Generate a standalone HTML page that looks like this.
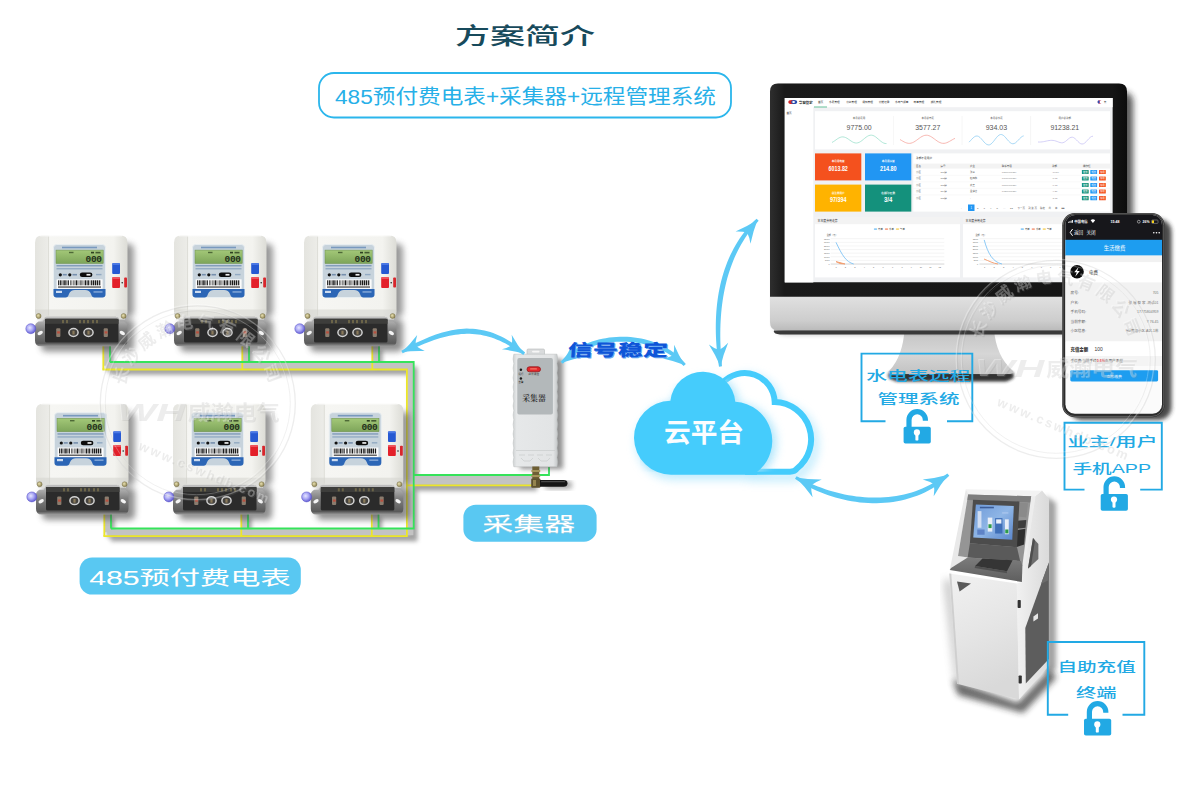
<!DOCTYPE html>
<html lang="zh-CN"><head><meta charset="utf-8"><title>方案简介</title>
<style>
html,body{margin:0;padding:0;background:#fff;}
body{width:1200px;height:800px;overflow:hidden;font-family:"Liberation Sans","Noto Sans CJK SC",sans-serif;}
svg{display:block}
</style></head><body>
<svg width="1200" height="800" viewBox="0 0 1200 800">
<text x="455" y="44.2" font-size="22.6" fill="#174a5c" text-anchor="start" font-weight="500" font-family='"Liberation Sans","Noto Sans CJK SC",sans-serif' textLength="140" lengthAdjust="spacingAndGlyphs" >方案简介</text><rect x="319" y="73" width="412" height="44.5" rx="15" ry="15" fill="#fff" stroke="#2bb6ec" stroke-width="1.8"/><text x="335" y="104" font-size="20" fill="#27b0e8" text-anchor="start" font-weight="normal" font-family='"Liberation Sans","Noto Sans CJK SC",sans-serif' textLength="381" lengthAdjust="spacingAndGlyphs" >485预付费电表+采集器+远程管理系统</text><defs><filter id="wsh" x="-5%" y="-5%" width="110%" height="115%"><feGaussianBlur stdDeviation="2.2"/></filter></defs><g filter="url(#wsh)" opacity="0.55" transform="translate(3,5)"><path d="M106.7 345 V365.7" fill="none" stroke="#555" stroke-width="7.5"/><path d="M245.7 345 V365.7" fill="none" stroke="#555" stroke-width="7.5"/><path d="M375.7 345 V365.7" fill="none" stroke="#555" stroke-width="7.5"/><path d="M106.7 365.7 H410.4 V532.3 H107.7" fill="none" stroke="#555" stroke-width="8"/><path d="M107.7 512.5 V532.3" fill="none" stroke="#555" stroke-width="7.5"/><path d="M244.7 512.5 V532.3" fill="none" stroke="#555" stroke-width="7.5"/><path d="M375.2 512.5 V532.3" fill="none" stroke="#555" stroke-width="7.5"/><path d="M410.4 480.2 H534" fill="none" stroke="#555" stroke-width="11"/></g><path d="M106.7 345 V365.7" fill="none" stroke="#c3c3c3" stroke-width="5.5"/><path d="M245.7 345 V365.7" fill="none" stroke="#c3c3c3" stroke-width="5.5"/><path d="M375.7 345 V365.7" fill="none" stroke="#c3c3c3" stroke-width="5.5"/><path d="M106.7 365.7 H410.4 V532.3 H107.7" fill="none" stroke="#c3c3c3" stroke-width="6"/><path d="M107.7 512.5 V532.3" fill="none" stroke="#c3c3c3" stroke-width="5.5"/><path d="M244.7 512.5 V532.3" fill="none" stroke="#c3c3c3" stroke-width="5.5"/><path d="M375.2 512.5 V532.3" fill="none" stroke="#c3c3c3" stroke-width="5.5"/><path d="M410.4 480.2 H534" fill="none" stroke="#c3c3c3" stroke-width="9"/><path d="M103.3 345 V369.5" fill="none" stroke="#ece62a" stroke-width="1.8"/><path d="M242.3 345 V369.5" fill="none" stroke="#ece62a" stroke-width="1.8"/><path d="M372.3 345 V369.5" fill="none" stroke="#ece62a" stroke-width="1.8"/><path d="M102.4 369.5 H406.9 V536.2 H103.4" fill="none" stroke="#ece62a" stroke-width="1.8"/><path d="M104.3 512.5 V536.2" fill="none" stroke="#ece62a" stroke-width="1.8"/><path d="M241.3 512.5 V536.2" fill="none" stroke="#ece62a" stroke-width="1.8"/><path d="M371.8 512.5 V536.2" fill="none" stroke="#ece62a" stroke-width="1.8"/><path d="M406.9 485.4 H533" fill="none" stroke="#ece62a" stroke-width="1.8"/><path d="M110 345 V362" fill="none" stroke="#35e35a" stroke-width="1.8"/><path d="M249 345 V362" fill="none" stroke="#35e35a" stroke-width="1.8"/><path d="M379 345 V362" fill="none" stroke="#35e35a" stroke-width="1.8"/><path d="M110 362 H413.7 V528.5 H111" fill="none" stroke="#35e35a" stroke-width="1.8"/><path d="M111 512.5 V528.5" fill="none" stroke="#35e35a" stroke-width="1.8"/><path d="M248 512.5 V528.5" fill="none" stroke="#35e35a" stroke-width="1.8"/><path d="M378.5 512.5 V528.5" fill="none" stroke="#35e35a" stroke-width="1.8"/><path d="M413.7 475 H549 V467" fill="none" stroke="#35e35a" stroke-width="1.8"/><defs>
<linearGradient id="mbody" x1="0" y1="0" x2="1" y2="0"><stop offset="0" stop-color="#e4e4df"/><stop offset="0.14" stop-color="#ecece8"/><stop offset="0.16" stop-color="#f6f6f3"/><stop offset="0.85" stop-color="#f3f3ef"/><stop offset="1" stop-color="#dcdcd6"/></linearGradient>
<linearGradient id="mlcd" x1="0" y1="0" x2="0" y2="1"><stop offset="0" stop-color="#a3c878"/><stop offset="1" stop-color="#7ea55a"/></linearGradient>
<linearGradient id="mterm" x1="0" y1="0" x2="0" y2="1"><stop offset="0" stop-color="#c4c4c4"/><stop offset="0.45" stop-color="#808080"/><stop offset="0.9" stop-color="#5a5a5a"/><stop offset="1" stop-color="#9a9a9a"/></linearGradient>
<radialGradient id="mled" cx="0.4" cy="0.4" r="0.7"><stop offset="0" stop-color="#e6e6ff"/><stop offset="0.45" stop-color="#a9a7f4"/><stop offset="1" stop-color="#4a44c8"/></radialGradient>
<radialGradient id="mscrew" cx="0.4" cy="0.4" r="0.7"><stop offset="0" stop-color="#e8e0b0"/><stop offset="1" stop-color="#857a4a"/></radialGradient>
<filter id="msh" x="-20%" y="-20%" width="150%" height="150%"><feGaussianBlur stdDeviation="3.2"/></filter>
</defs><g transform="translate(35,235.5)"><g filter="url(#msh)" opacity="0.6"><rect x="8" y="8" width="91" height="74" rx="6" fill="#555"/><rect x="6" y="84" width="93" height="32" rx="5" fill="#444"/></g><path d="M7 0 H85.5 Q92.5 0 92.5 7 V76 Q92.5 81 88 81 H4 Q0 81 0 76 V7 Q0 0 7 0 Z" fill="url(#mbody)"/><path d="M13.5 1 V80" stroke="#d9d9d3" stroke-width="0.8"/><path d="M5 0.4 H87" stroke="#fff" stroke-width="0.8" opacity="0.8"/><rect x="0" y="74" width="92" height="7" fill="#d4d4ce" opacity="0.55"/><rect x="18.5" y="9" width="52" height="53" rx="3.2" fill="#c7d3dc" stroke="#e9eef2" stroke-width="0.9"/><rect x="27" y="11.2" width="35" height="1.6" fill="#5f86b4" opacity="0.75"/><rect x="21" y="14.6" width="47.2" height="13.4" fill="url(#mlcd)" stroke="#6c8f4c" stroke-width="0.5"/><text x="66.5" y="26.6" font-size="9.5" fill="#22301a" text-anchor="end" font-weight="bold" font-family='"Liberation Mono",monospace' letter-spacing="-0.4">000</text><rect x="34" y="16.3" width="4.5" height="1.4" fill="#3b5228" opacity="0.8"/><rect x="56" y="16.3" width="3" height="1.6" fill="#2c3f1f"/><rect x="60.5" y="16.3" width="5" height="1.6" fill="#2c3f1f" opacity="0.8"/><rect x="21.5" y="29.6" width="46" height="1.3" fill="#5d7fa8" opacity="0.7"/><rect x="21.5" y="32.6" width="46" height="1.3" fill="#6d8db2" opacity="0.6"/><circle cx="25.3" cy="39.3" r="1.6" fill="#111"/><circle cx="34.8" cy="39.3" r="1.6" fill="#111"/><rect x="27.8" y="38.4" width="4" height="1.6" fill="#55749a" opacity="0.7"/><rect x="37.5" y="38.4" width="4.5" height="1.6" fill="#55749a" opacity="0.7"/><rect x="44.8" y="37" width="12.6" height="4.6" rx="2.3" fill="#0c0c0c"/><rect x="51.5" y="38.4" width="4" height="1.7" fill="#eee"/><rect x="61" y="38.4" width="5.5" height="1.4" fill="#6f8fb3" opacity="0.6"/><rect x="21.6" y="43.8" width="46" height="9.6" fill="#fcfcfc"/><rect x="23" y="44.8" width="0.9" height="5" fill="#1a1a1a"/><rect x="24.7" y="44.8" width="1.2" height="5" fill="#1a1a1a"/><rect x="26.5" y="44.8" width="0.6" height="5" fill="#1a1a1a"/><rect x="27.7" y="44.8" width="0.9" height="5" fill="#1a1a1a"/><rect x="29.2" y="44.8" width="1.5" height="5" fill="#1a1a1a"/><rect x="31.5" y="44.8" width="0.6" height="5" fill="#1a1a1a"/><rect x="32.7" y="44.8" width="1.2" height="5" fill="#1a1a1a"/><rect x="35.2" y="44.8" width="0.6" height="5" fill="#1a1a1a"/><rect x="36.6" y="44.8" width="0.6" height="5" fill="#1a1a1a"/><rect x="38.5" y="44.8" width="0.6" height="5" fill="#1a1a1a"/><rect x="39.7" y="44.8" width="0.6" height="5" fill="#1a1a1a"/><rect x="40.9" y="44.8" width="1.5" height="5" fill="#1a1a1a"/><rect x="43.7" y="44.8" width="0.6" height="5" fill="#1a1a1a"/><rect x="45.1" y="44.8" width="0.6" height="5" fill="#1a1a1a"/><rect x="46.5" y="44.8" width="0.9" height="5" fill="#1a1a1a"/><rect x="48.7" y="44.8" width="0.6" height="5" fill="#1a1a1a"/><rect x="49.9" y="44.8" width="1.5" height="5" fill="#1a1a1a"/><rect x="52.4" y="44.8" width="1.5" height="5" fill="#1a1a1a"/><rect x="54.7" y="44.8" width="0.6" height="5" fill="#1a1a1a"/><rect x="56.1" y="44.8" width="0.9" height="5" fill="#1a1a1a"/><rect x="57.6" y="44.8" width="1.5" height="5" fill="#1a1a1a"/><rect x="59.7" y="44.8" width="1.5" height="5" fill="#1a1a1a"/><rect x="61.8" y="44.8" width="1.5" height="5" fill="#1a1a1a"/><rect x="64.1" y="44.8" width="1.2" height="5" fill="#1a1a1a"/><rect x="23" y="50.8" width="43" height="1.5" fill="#333" opacity="0.75"/><path d="M18.5 53.6 H70.5 V58.8 Q70.5 62 67.3 62 H59.5 Q57 62 56 58.5 Q54.5 54.6 50 54.6 H40 Q35.5 54.6 34 58.5 Q33 62 30.5 62 H21.7 Q18.5 62 18.5 58.8 Z" fill="#2c66b6"/><rect x="21" y="55.3" width="6" height="2.2" fill="#dfe9f6" opacity="0.9"/><rect x="58.5" y="55.8" width="9" height="1.3" fill="#a9c3e6" opacity="0.8"/><rect x="77.2" y="27.6" width="7.8" height="10.8" rx="1" fill="#2659d2"/><rect x="77.2" y="27.6" width="7.8" height="2" rx="1" fill="#5a86ec" opacity="0.7"/><rect x="77.2" y="41.4" width="7.8" height="11" rx="1" fill="#e3202a"/><rect x="77.2" y="41.4" width="7.8" height="2" rx="1" fill="#f36a70" opacity="0.7"/><rect x="89.2" y="42" width="2.8" height="10" rx="0.8" fill="#d8262c"/><circle cx="87.2" cy="47.3" r="0.8" fill="#222"/><rect x="2" y="78" width="9" height="6" fill="#dededa"/><rect x="81" y="78" width="9" height="6" fill="#dededa"/><path d="M10 81.5 H83 L85 86 H89 Q93 88 92.5 92 V105 Q92.5 110.8 87 110.8 H5.5 Q0 110.8 0 105 V92 Q-0.5 88 3.5 86 H8 Z" fill="url(#mterm)"/><rect x="10" y="83.3" width="73.5" height="23.6" rx="1.5" fill="#2b2b2b"/><rect x="10" y="83.3" width="73.5" height="5" fill="#3d3d3b"/><rect x="27" y="84.5" width="2" height="3.2" fill="#6b6448"/><rect x="31" y="84.5" width="2" height="3.2" fill="#6b6448"/><rect x="44" y="84.5" width="2" height="3.2" fill="#6b6448"/><rect x="48" y="84.5" width="2" height="3.2" fill="#6b6448"/><rect x="52" y="84.5" width="2" height="3.2" fill="#6b6448"/><rect x="57" y="84.5" width="2" height="3.2" fill="#6b6448"/><rect x="61" y="84.5" width="2" height="3.2" fill="#6b6448"/><ellipse cx="5.2" cy="97.5" rx="2.9" ry="1.8" fill="#f4f4f4" transform="rotate(-30 5.2 97.5)"/><ellipse cx="87.3" cy="97.5" rx="2.9" ry="1.8" fill="#f4f4f4" transform="rotate(30 87.3 97.5)"/><ellipse cx="38.5" cy="97" rx="4.6" ry="3.9" fill="#45433f" stroke="#d2d2d2" stroke-width="1.5"/><rect x="37.4" y="95.2" width="2.2" height="3.8" fill="#8a7a5a"/><ellipse cx="53.5" cy="97" rx="4.6" ry="3.9" fill="#45433f" stroke="#d2d2d2" stroke-width="1.5"/><rect x="52.4" y="95.2" width="2.2" height="3.8" fill="#8a7a5a"/><rect x="21.2" y="92.8" width="4.2" height="8.6" rx="1" fill="#8a7c6e"/><rect x="22.1" y="95.8" width="2.8" height="2.2" fill="#b8503f"/><rect x="68.7" y="92.8" width="4.2" height="8.6" rx="1" fill="#8a7c6e"/><rect x="69.6" y="95.8" width="2.8" height="2.2" fill="#b8503f"/><circle cx="3.6" cy="80.5" r="2.5" fill="url(#mscrew)" stroke="#6b6238" stroke-width="0.4"/><circle cx="88.6" cy="80.5" r="2.5" fill="url(#mscrew)" stroke="#6b6238" stroke-width="0.4"/><circle cx="-4.2" cy="93.2" r="5" fill="url(#mled)" stroke="#5a55c8" stroke-width="0.5"/></g><g transform="translate(174,235.5)"><g filter="url(#msh)" opacity="0.6"><rect x="8" y="8" width="91" height="74" rx="6" fill="#555"/><rect x="6" y="84" width="93" height="32" rx="5" fill="#444"/></g><path d="M7 0 H85.5 Q92.5 0 92.5 7 V76 Q92.5 81 88 81 H4 Q0 81 0 76 V7 Q0 0 7 0 Z" fill="url(#mbody)"/><path d="M13.5 1 V80" stroke="#d9d9d3" stroke-width="0.8"/><path d="M5 0.4 H87" stroke="#fff" stroke-width="0.8" opacity="0.8"/><rect x="0" y="74" width="92" height="7" fill="#d4d4ce" opacity="0.55"/><rect x="18.5" y="9" width="52" height="53" rx="3.2" fill="#c7d3dc" stroke="#e9eef2" stroke-width="0.9"/><rect x="27" y="11.2" width="35" height="1.6" fill="#5f86b4" opacity="0.75"/><rect x="21" y="14.6" width="47.2" height="13.4" fill="url(#mlcd)" stroke="#6c8f4c" stroke-width="0.5"/><text x="66.5" y="26.6" font-size="9.5" fill="#22301a" text-anchor="end" font-weight="bold" font-family='"Liberation Mono",monospace' letter-spacing="-0.4">000</text><rect x="34" y="16.3" width="4.5" height="1.4" fill="#3b5228" opacity="0.8"/><rect x="56" y="16.3" width="3" height="1.6" fill="#2c3f1f"/><rect x="60.5" y="16.3" width="5" height="1.6" fill="#2c3f1f" opacity="0.8"/><rect x="21.5" y="29.6" width="46" height="1.3" fill="#5d7fa8" opacity="0.7"/><rect x="21.5" y="32.6" width="46" height="1.3" fill="#6d8db2" opacity="0.6"/><circle cx="25.3" cy="39.3" r="1.6" fill="#111"/><circle cx="34.8" cy="39.3" r="1.6" fill="#111"/><rect x="27.8" y="38.4" width="4" height="1.6" fill="#55749a" opacity="0.7"/><rect x="37.5" y="38.4" width="4.5" height="1.6" fill="#55749a" opacity="0.7"/><rect x="44.8" y="37" width="12.6" height="4.6" rx="2.3" fill="#0c0c0c"/><rect x="51.5" y="38.4" width="4" height="1.7" fill="#eee"/><rect x="61" y="38.4" width="5.5" height="1.4" fill="#6f8fb3" opacity="0.6"/><rect x="21.6" y="43.8" width="46" height="9.6" fill="#fcfcfc"/><rect x="23" y="44.8" width="0.9" height="5" fill="#1a1a1a"/><rect x="24.7" y="44.8" width="1.2" height="5" fill="#1a1a1a"/><rect x="26.5" y="44.8" width="0.6" height="5" fill="#1a1a1a"/><rect x="27.7" y="44.8" width="0.9" height="5" fill="#1a1a1a"/><rect x="29.2" y="44.8" width="1.5" height="5" fill="#1a1a1a"/><rect x="31.5" y="44.8" width="0.6" height="5" fill="#1a1a1a"/><rect x="32.7" y="44.8" width="1.2" height="5" fill="#1a1a1a"/><rect x="35.2" y="44.8" width="0.6" height="5" fill="#1a1a1a"/><rect x="36.6" y="44.8" width="0.6" height="5" fill="#1a1a1a"/><rect x="38.5" y="44.8" width="0.6" height="5" fill="#1a1a1a"/><rect x="39.7" y="44.8" width="0.6" height="5" fill="#1a1a1a"/><rect x="40.9" y="44.8" width="1.5" height="5" fill="#1a1a1a"/><rect x="43.7" y="44.8" width="0.6" height="5" fill="#1a1a1a"/><rect x="45.1" y="44.8" width="0.6" height="5" fill="#1a1a1a"/><rect x="46.5" y="44.8" width="0.9" height="5" fill="#1a1a1a"/><rect x="48.7" y="44.8" width="0.6" height="5" fill="#1a1a1a"/><rect x="49.9" y="44.8" width="1.5" height="5" fill="#1a1a1a"/><rect x="52.4" y="44.8" width="1.5" height="5" fill="#1a1a1a"/><rect x="54.7" y="44.8" width="0.6" height="5" fill="#1a1a1a"/><rect x="56.1" y="44.8" width="0.9" height="5" fill="#1a1a1a"/><rect x="57.6" y="44.8" width="1.5" height="5" fill="#1a1a1a"/><rect x="59.7" y="44.8" width="1.5" height="5" fill="#1a1a1a"/><rect x="61.8" y="44.8" width="1.5" height="5" fill="#1a1a1a"/><rect x="64.1" y="44.8" width="1.2" height="5" fill="#1a1a1a"/><rect x="23" y="50.8" width="43" height="1.5" fill="#333" opacity="0.75"/><path d="M18.5 53.6 H70.5 V58.8 Q70.5 62 67.3 62 H59.5 Q57 62 56 58.5 Q54.5 54.6 50 54.6 H40 Q35.5 54.6 34 58.5 Q33 62 30.5 62 H21.7 Q18.5 62 18.5 58.8 Z" fill="#2c66b6"/><rect x="21" y="55.3" width="6" height="2.2" fill="#dfe9f6" opacity="0.9"/><rect x="58.5" y="55.8" width="9" height="1.3" fill="#a9c3e6" opacity="0.8"/><rect x="77.2" y="27.6" width="7.8" height="10.8" rx="1" fill="#2659d2"/><rect x="77.2" y="27.6" width="7.8" height="2" rx="1" fill="#5a86ec" opacity="0.7"/><rect x="77.2" y="41.4" width="7.8" height="11" rx="1" fill="#e3202a"/><rect x="77.2" y="41.4" width="7.8" height="2" rx="1" fill="#f36a70" opacity="0.7"/><rect x="89.2" y="42" width="2.8" height="10" rx="0.8" fill="#d8262c"/><circle cx="87.2" cy="47.3" r="0.8" fill="#222"/><rect x="2" y="78" width="9" height="6" fill="#dededa"/><rect x="81" y="78" width="9" height="6" fill="#dededa"/><path d="M10 81.5 H83 L85 86 H89 Q93 88 92.5 92 V105 Q92.5 110.8 87 110.8 H5.5 Q0 110.8 0 105 V92 Q-0.5 88 3.5 86 H8 Z" fill="url(#mterm)"/><rect x="10" y="83.3" width="73.5" height="23.6" rx="1.5" fill="#2b2b2b"/><rect x="10" y="83.3" width="73.5" height="5" fill="#3d3d3b"/><rect x="27" y="84.5" width="2" height="3.2" fill="#6b6448"/><rect x="31" y="84.5" width="2" height="3.2" fill="#6b6448"/><rect x="44" y="84.5" width="2" height="3.2" fill="#6b6448"/><rect x="48" y="84.5" width="2" height="3.2" fill="#6b6448"/><rect x="52" y="84.5" width="2" height="3.2" fill="#6b6448"/><rect x="57" y="84.5" width="2" height="3.2" fill="#6b6448"/><rect x="61" y="84.5" width="2" height="3.2" fill="#6b6448"/><ellipse cx="5.2" cy="97.5" rx="2.9" ry="1.8" fill="#f4f4f4" transform="rotate(-30 5.2 97.5)"/><ellipse cx="87.3" cy="97.5" rx="2.9" ry="1.8" fill="#f4f4f4" transform="rotate(30 87.3 97.5)"/><ellipse cx="38.5" cy="97" rx="4.6" ry="3.9" fill="#45433f" stroke="#d2d2d2" stroke-width="1.5"/><rect x="37.4" y="95.2" width="2.2" height="3.8" fill="#8a7a5a"/><ellipse cx="53.5" cy="97" rx="4.6" ry="3.9" fill="#45433f" stroke="#d2d2d2" stroke-width="1.5"/><rect x="52.4" y="95.2" width="2.2" height="3.8" fill="#8a7a5a"/><rect x="21.2" y="92.8" width="4.2" height="8.6" rx="1" fill="#8a7c6e"/><rect x="22.1" y="95.8" width="2.8" height="2.2" fill="#b8503f"/><rect x="68.7" y="92.8" width="4.2" height="8.6" rx="1" fill="#8a7c6e"/><rect x="69.6" y="95.8" width="2.8" height="2.2" fill="#b8503f"/><circle cx="3.6" cy="80.5" r="2.5" fill="url(#mscrew)" stroke="#6b6238" stroke-width="0.4"/><circle cx="88.6" cy="80.5" r="2.5" fill="url(#mscrew)" stroke="#6b6238" stroke-width="0.4"/><circle cx="-4.2" cy="93.2" r="5" fill="url(#mled)" stroke="#5a55c8" stroke-width="0.5"/></g><g transform="translate(304,235.5)"><g filter="url(#msh)" opacity="0.6"><rect x="8" y="8" width="91" height="74" rx="6" fill="#555"/><rect x="6" y="84" width="93" height="32" rx="5" fill="#444"/></g><path d="M7 0 H85.5 Q92.5 0 92.5 7 V76 Q92.5 81 88 81 H4 Q0 81 0 76 V7 Q0 0 7 0 Z" fill="url(#mbody)"/><path d="M13.5 1 V80" stroke="#d9d9d3" stroke-width="0.8"/><path d="M5 0.4 H87" stroke="#fff" stroke-width="0.8" opacity="0.8"/><rect x="0" y="74" width="92" height="7" fill="#d4d4ce" opacity="0.55"/><rect x="18.5" y="9" width="52" height="53" rx="3.2" fill="#c7d3dc" stroke="#e9eef2" stroke-width="0.9"/><rect x="27" y="11.2" width="35" height="1.6" fill="#5f86b4" opacity="0.75"/><rect x="21" y="14.6" width="47.2" height="13.4" fill="url(#mlcd)" stroke="#6c8f4c" stroke-width="0.5"/><text x="66.5" y="26.6" font-size="9.5" fill="#22301a" text-anchor="end" font-weight="bold" font-family='"Liberation Mono",monospace' letter-spacing="-0.4">000</text><rect x="34" y="16.3" width="4.5" height="1.4" fill="#3b5228" opacity="0.8"/><rect x="56" y="16.3" width="3" height="1.6" fill="#2c3f1f"/><rect x="60.5" y="16.3" width="5" height="1.6" fill="#2c3f1f" opacity="0.8"/><rect x="21.5" y="29.6" width="46" height="1.3" fill="#5d7fa8" opacity="0.7"/><rect x="21.5" y="32.6" width="46" height="1.3" fill="#6d8db2" opacity="0.6"/><circle cx="25.3" cy="39.3" r="1.6" fill="#111"/><circle cx="34.8" cy="39.3" r="1.6" fill="#111"/><rect x="27.8" y="38.4" width="4" height="1.6" fill="#55749a" opacity="0.7"/><rect x="37.5" y="38.4" width="4.5" height="1.6" fill="#55749a" opacity="0.7"/><rect x="44.8" y="37" width="12.6" height="4.6" rx="2.3" fill="#0c0c0c"/><rect x="51.5" y="38.4" width="4" height="1.7" fill="#eee"/><rect x="61" y="38.4" width="5.5" height="1.4" fill="#6f8fb3" opacity="0.6"/><rect x="21.6" y="43.8" width="46" height="9.6" fill="#fcfcfc"/><rect x="23" y="44.8" width="0.9" height="5" fill="#1a1a1a"/><rect x="24.7" y="44.8" width="1.2" height="5" fill="#1a1a1a"/><rect x="26.5" y="44.8" width="0.6" height="5" fill="#1a1a1a"/><rect x="27.7" y="44.8" width="0.9" height="5" fill="#1a1a1a"/><rect x="29.2" y="44.8" width="1.5" height="5" fill="#1a1a1a"/><rect x="31.5" y="44.8" width="0.6" height="5" fill="#1a1a1a"/><rect x="32.7" y="44.8" width="1.2" height="5" fill="#1a1a1a"/><rect x="35.2" y="44.8" width="0.6" height="5" fill="#1a1a1a"/><rect x="36.6" y="44.8" width="0.6" height="5" fill="#1a1a1a"/><rect x="38.5" y="44.8" width="0.6" height="5" fill="#1a1a1a"/><rect x="39.7" y="44.8" width="0.6" height="5" fill="#1a1a1a"/><rect x="40.9" y="44.8" width="1.5" height="5" fill="#1a1a1a"/><rect x="43.7" y="44.8" width="0.6" height="5" fill="#1a1a1a"/><rect x="45.1" y="44.8" width="0.6" height="5" fill="#1a1a1a"/><rect x="46.5" y="44.8" width="0.9" height="5" fill="#1a1a1a"/><rect x="48.7" y="44.8" width="0.6" height="5" fill="#1a1a1a"/><rect x="49.9" y="44.8" width="1.5" height="5" fill="#1a1a1a"/><rect x="52.4" y="44.8" width="1.5" height="5" fill="#1a1a1a"/><rect x="54.7" y="44.8" width="0.6" height="5" fill="#1a1a1a"/><rect x="56.1" y="44.8" width="0.9" height="5" fill="#1a1a1a"/><rect x="57.6" y="44.8" width="1.5" height="5" fill="#1a1a1a"/><rect x="59.7" y="44.8" width="1.5" height="5" fill="#1a1a1a"/><rect x="61.8" y="44.8" width="1.5" height="5" fill="#1a1a1a"/><rect x="64.1" y="44.8" width="1.2" height="5" fill="#1a1a1a"/><rect x="23" y="50.8" width="43" height="1.5" fill="#333" opacity="0.75"/><path d="M18.5 53.6 H70.5 V58.8 Q70.5 62 67.3 62 H59.5 Q57 62 56 58.5 Q54.5 54.6 50 54.6 H40 Q35.5 54.6 34 58.5 Q33 62 30.5 62 H21.7 Q18.5 62 18.5 58.8 Z" fill="#2c66b6"/><rect x="21" y="55.3" width="6" height="2.2" fill="#dfe9f6" opacity="0.9"/><rect x="58.5" y="55.8" width="9" height="1.3" fill="#a9c3e6" opacity="0.8"/><rect x="77.2" y="27.6" width="7.8" height="10.8" rx="1" fill="#2659d2"/><rect x="77.2" y="27.6" width="7.8" height="2" rx="1" fill="#5a86ec" opacity="0.7"/><rect x="77.2" y="41.4" width="7.8" height="11" rx="1" fill="#e3202a"/><rect x="77.2" y="41.4" width="7.8" height="2" rx="1" fill="#f36a70" opacity="0.7"/><rect x="89.2" y="42" width="2.8" height="10" rx="0.8" fill="#d8262c"/><circle cx="87.2" cy="47.3" r="0.8" fill="#222"/><rect x="2" y="78" width="9" height="6" fill="#dededa"/><rect x="81" y="78" width="9" height="6" fill="#dededa"/><path d="M10 81.5 H83 L85 86 H89 Q93 88 92.5 92 V105 Q92.5 110.8 87 110.8 H5.5 Q0 110.8 0 105 V92 Q-0.5 88 3.5 86 H8 Z" fill="url(#mterm)"/><rect x="10" y="83.3" width="73.5" height="23.6" rx="1.5" fill="#2b2b2b"/><rect x="10" y="83.3" width="73.5" height="5" fill="#3d3d3b"/><rect x="27" y="84.5" width="2" height="3.2" fill="#6b6448"/><rect x="31" y="84.5" width="2" height="3.2" fill="#6b6448"/><rect x="44" y="84.5" width="2" height="3.2" fill="#6b6448"/><rect x="48" y="84.5" width="2" height="3.2" fill="#6b6448"/><rect x="52" y="84.5" width="2" height="3.2" fill="#6b6448"/><rect x="57" y="84.5" width="2" height="3.2" fill="#6b6448"/><rect x="61" y="84.5" width="2" height="3.2" fill="#6b6448"/><ellipse cx="5.2" cy="97.5" rx="2.9" ry="1.8" fill="#f4f4f4" transform="rotate(-30 5.2 97.5)"/><ellipse cx="87.3" cy="97.5" rx="2.9" ry="1.8" fill="#f4f4f4" transform="rotate(30 87.3 97.5)"/><ellipse cx="38.5" cy="97" rx="4.6" ry="3.9" fill="#45433f" stroke="#d2d2d2" stroke-width="1.5"/><rect x="37.4" y="95.2" width="2.2" height="3.8" fill="#8a7a5a"/><ellipse cx="53.5" cy="97" rx="4.6" ry="3.9" fill="#45433f" stroke="#d2d2d2" stroke-width="1.5"/><rect x="52.4" y="95.2" width="2.2" height="3.8" fill="#8a7a5a"/><rect x="21.2" y="92.8" width="4.2" height="8.6" rx="1" fill="#8a7c6e"/><rect x="22.1" y="95.8" width="2.8" height="2.2" fill="#b8503f"/><rect x="68.7" y="92.8" width="4.2" height="8.6" rx="1" fill="#8a7c6e"/><rect x="69.6" y="95.8" width="2.8" height="2.2" fill="#b8503f"/><circle cx="3.6" cy="80.5" r="2.5" fill="url(#mscrew)" stroke="#6b6238" stroke-width="0.4"/><circle cx="88.6" cy="80.5" r="2.5" fill="url(#mscrew)" stroke="#6b6238" stroke-width="0.4"/><circle cx="-4.2" cy="93.2" r="5" fill="url(#mled)" stroke="#5a55c8" stroke-width="0.5"/></g><g transform="translate(36,403.7)"><g filter="url(#msh)" opacity="0.6"><rect x="8" y="8" width="91" height="74" rx="6" fill="#555"/><rect x="6" y="84" width="93" height="32" rx="5" fill="#444"/></g><path d="M7 0 H85.5 Q92.5 0 92.5 7 V76 Q92.5 81 88 81 H4 Q0 81 0 76 V7 Q0 0 7 0 Z" fill="url(#mbody)"/><path d="M13.5 1 V80" stroke="#d9d9d3" stroke-width="0.8"/><path d="M5 0.4 H87" stroke="#fff" stroke-width="0.8" opacity="0.8"/><rect x="0" y="74" width="92" height="7" fill="#d4d4ce" opacity="0.55"/><rect x="18.5" y="9" width="52" height="53" rx="3.2" fill="#c7d3dc" stroke="#e9eef2" stroke-width="0.9"/><rect x="27" y="11.2" width="35" height="1.6" fill="#5f86b4" opacity="0.75"/><rect x="21" y="14.6" width="47.2" height="13.4" fill="url(#mlcd)" stroke="#6c8f4c" stroke-width="0.5"/><text x="66.5" y="26.6" font-size="9.5" fill="#22301a" text-anchor="end" font-weight="bold" font-family='"Liberation Mono",monospace' letter-spacing="-0.4">000</text><rect x="34" y="16.3" width="4.5" height="1.4" fill="#3b5228" opacity="0.8"/><rect x="56" y="16.3" width="3" height="1.6" fill="#2c3f1f"/><rect x="60.5" y="16.3" width="5" height="1.6" fill="#2c3f1f" opacity="0.8"/><rect x="21.5" y="29.6" width="46" height="1.3" fill="#5d7fa8" opacity="0.7"/><rect x="21.5" y="32.6" width="46" height="1.3" fill="#6d8db2" opacity="0.6"/><circle cx="25.3" cy="39.3" r="1.6" fill="#111"/><circle cx="34.8" cy="39.3" r="1.6" fill="#111"/><rect x="27.8" y="38.4" width="4" height="1.6" fill="#55749a" opacity="0.7"/><rect x="37.5" y="38.4" width="4.5" height="1.6" fill="#55749a" opacity="0.7"/><rect x="44.8" y="37" width="12.6" height="4.6" rx="2.3" fill="#0c0c0c"/><rect x="51.5" y="38.4" width="4" height="1.7" fill="#eee"/><rect x="61" y="38.4" width="5.5" height="1.4" fill="#6f8fb3" opacity="0.6"/><rect x="21.6" y="43.8" width="46" height="9.6" fill="#fcfcfc"/><rect x="23" y="44.8" width="0.9" height="5" fill="#1a1a1a"/><rect x="24.7" y="44.8" width="1.2" height="5" fill="#1a1a1a"/><rect x="26.5" y="44.8" width="0.6" height="5" fill="#1a1a1a"/><rect x="27.7" y="44.8" width="0.9" height="5" fill="#1a1a1a"/><rect x="29.2" y="44.8" width="1.5" height="5" fill="#1a1a1a"/><rect x="31.5" y="44.8" width="0.6" height="5" fill="#1a1a1a"/><rect x="32.7" y="44.8" width="1.2" height="5" fill="#1a1a1a"/><rect x="35.2" y="44.8" width="0.6" height="5" fill="#1a1a1a"/><rect x="36.6" y="44.8" width="0.6" height="5" fill="#1a1a1a"/><rect x="38.5" y="44.8" width="0.6" height="5" fill="#1a1a1a"/><rect x="39.7" y="44.8" width="0.6" height="5" fill="#1a1a1a"/><rect x="40.9" y="44.8" width="1.5" height="5" fill="#1a1a1a"/><rect x="43.7" y="44.8" width="0.6" height="5" fill="#1a1a1a"/><rect x="45.1" y="44.8" width="0.6" height="5" fill="#1a1a1a"/><rect x="46.5" y="44.8" width="0.9" height="5" fill="#1a1a1a"/><rect x="48.7" y="44.8" width="0.6" height="5" fill="#1a1a1a"/><rect x="49.9" y="44.8" width="1.5" height="5" fill="#1a1a1a"/><rect x="52.4" y="44.8" width="1.5" height="5" fill="#1a1a1a"/><rect x="54.7" y="44.8" width="0.6" height="5" fill="#1a1a1a"/><rect x="56.1" y="44.8" width="0.9" height="5" fill="#1a1a1a"/><rect x="57.6" y="44.8" width="1.5" height="5" fill="#1a1a1a"/><rect x="59.7" y="44.8" width="1.5" height="5" fill="#1a1a1a"/><rect x="61.8" y="44.8" width="1.5" height="5" fill="#1a1a1a"/><rect x="64.1" y="44.8" width="1.2" height="5" fill="#1a1a1a"/><rect x="23" y="50.8" width="43" height="1.5" fill="#333" opacity="0.75"/><path d="M18.5 53.6 H70.5 V58.8 Q70.5 62 67.3 62 H59.5 Q57 62 56 58.5 Q54.5 54.6 50 54.6 H40 Q35.5 54.6 34 58.5 Q33 62 30.5 62 H21.7 Q18.5 62 18.5 58.8 Z" fill="#2c66b6"/><rect x="21" y="55.3" width="6" height="2.2" fill="#dfe9f6" opacity="0.9"/><rect x="58.5" y="55.8" width="9" height="1.3" fill="#a9c3e6" opacity="0.8"/><rect x="77.2" y="27.6" width="7.8" height="10.8" rx="1" fill="#2659d2"/><rect x="77.2" y="27.6" width="7.8" height="2" rx="1" fill="#5a86ec" opacity="0.7"/><rect x="77.2" y="41.4" width="7.8" height="11" rx="1" fill="#e3202a"/><rect x="77.2" y="41.4" width="7.8" height="2" rx="1" fill="#f36a70" opacity="0.7"/><rect x="89.2" y="42" width="2.8" height="10" rx="0.8" fill="#d8262c"/><circle cx="87.2" cy="47.3" r="0.8" fill="#222"/><rect x="2" y="78" width="9" height="6" fill="#dededa"/><rect x="81" y="78" width="9" height="6" fill="#dededa"/><path d="M10 81.5 H83 L85 86 H89 Q93 88 92.5 92 V105 Q92.5 110.8 87 110.8 H5.5 Q0 110.8 0 105 V92 Q-0.5 88 3.5 86 H8 Z" fill="url(#mterm)"/><rect x="10" y="83.3" width="73.5" height="23.6" rx="1.5" fill="#2b2b2b"/><rect x="10" y="83.3" width="73.5" height="5" fill="#3d3d3b"/><rect x="27" y="84.5" width="2" height="3.2" fill="#6b6448"/><rect x="31" y="84.5" width="2" height="3.2" fill="#6b6448"/><rect x="44" y="84.5" width="2" height="3.2" fill="#6b6448"/><rect x="48" y="84.5" width="2" height="3.2" fill="#6b6448"/><rect x="52" y="84.5" width="2" height="3.2" fill="#6b6448"/><rect x="57" y="84.5" width="2" height="3.2" fill="#6b6448"/><rect x="61" y="84.5" width="2" height="3.2" fill="#6b6448"/><ellipse cx="5.2" cy="97.5" rx="2.9" ry="1.8" fill="#f4f4f4" transform="rotate(-30 5.2 97.5)"/><ellipse cx="87.3" cy="97.5" rx="2.9" ry="1.8" fill="#f4f4f4" transform="rotate(30 87.3 97.5)"/><ellipse cx="38.5" cy="97" rx="4.6" ry="3.9" fill="#45433f" stroke="#d2d2d2" stroke-width="1.5"/><rect x="37.4" y="95.2" width="2.2" height="3.8" fill="#8a7a5a"/><ellipse cx="53.5" cy="97" rx="4.6" ry="3.9" fill="#45433f" stroke="#d2d2d2" stroke-width="1.5"/><rect x="52.4" y="95.2" width="2.2" height="3.8" fill="#8a7a5a"/><rect x="21.2" y="92.8" width="4.2" height="8.6" rx="1" fill="#8a7c6e"/><rect x="22.1" y="95.8" width="2.8" height="2.2" fill="#b8503f"/><rect x="68.7" y="92.8" width="4.2" height="8.6" rx="1" fill="#8a7c6e"/><rect x="69.6" y="95.8" width="2.8" height="2.2" fill="#b8503f"/><circle cx="3.6" cy="80.5" r="2.5" fill="url(#mscrew)" stroke="#6b6238" stroke-width="0.4"/><circle cx="88.6" cy="80.5" r="2.5" fill="url(#mscrew)" stroke="#6b6238" stroke-width="0.4"/><circle cx="-4.2" cy="93.2" r="5" fill="url(#mled)" stroke="#5a55c8" stroke-width="0.5"/></g><g transform="translate(173,403.7)"><g filter="url(#msh)" opacity="0.6"><rect x="8" y="8" width="91" height="74" rx="6" fill="#555"/><rect x="6" y="84" width="93" height="32" rx="5" fill="#444"/></g><path d="M7 0 H85.5 Q92.5 0 92.5 7 V76 Q92.5 81 88 81 H4 Q0 81 0 76 V7 Q0 0 7 0 Z" fill="url(#mbody)"/><path d="M13.5 1 V80" stroke="#d9d9d3" stroke-width="0.8"/><path d="M5 0.4 H87" stroke="#fff" stroke-width="0.8" opacity="0.8"/><rect x="0" y="74" width="92" height="7" fill="#d4d4ce" opacity="0.55"/><rect x="18.5" y="9" width="52" height="53" rx="3.2" fill="#c7d3dc" stroke="#e9eef2" stroke-width="0.9"/><rect x="27" y="11.2" width="35" height="1.6" fill="#5f86b4" opacity="0.75"/><rect x="21" y="14.6" width="47.2" height="13.4" fill="url(#mlcd)" stroke="#6c8f4c" stroke-width="0.5"/><text x="66.5" y="26.6" font-size="9.5" fill="#22301a" text-anchor="end" font-weight="bold" font-family='"Liberation Mono",monospace' letter-spacing="-0.4">000</text><rect x="34" y="16.3" width="4.5" height="1.4" fill="#3b5228" opacity="0.8"/><rect x="56" y="16.3" width="3" height="1.6" fill="#2c3f1f"/><rect x="60.5" y="16.3" width="5" height="1.6" fill="#2c3f1f" opacity="0.8"/><rect x="21.5" y="29.6" width="46" height="1.3" fill="#5d7fa8" opacity="0.7"/><rect x="21.5" y="32.6" width="46" height="1.3" fill="#6d8db2" opacity="0.6"/><circle cx="25.3" cy="39.3" r="1.6" fill="#111"/><circle cx="34.8" cy="39.3" r="1.6" fill="#111"/><rect x="27.8" y="38.4" width="4" height="1.6" fill="#55749a" opacity="0.7"/><rect x="37.5" y="38.4" width="4.5" height="1.6" fill="#55749a" opacity="0.7"/><rect x="44.8" y="37" width="12.6" height="4.6" rx="2.3" fill="#0c0c0c"/><rect x="51.5" y="38.4" width="4" height="1.7" fill="#eee"/><rect x="61" y="38.4" width="5.5" height="1.4" fill="#6f8fb3" opacity="0.6"/><rect x="21.6" y="43.8" width="46" height="9.6" fill="#fcfcfc"/><rect x="23" y="44.8" width="0.9" height="5" fill="#1a1a1a"/><rect x="24.7" y="44.8" width="1.2" height="5" fill="#1a1a1a"/><rect x="26.5" y="44.8" width="0.6" height="5" fill="#1a1a1a"/><rect x="27.7" y="44.8" width="0.9" height="5" fill="#1a1a1a"/><rect x="29.2" y="44.8" width="1.5" height="5" fill="#1a1a1a"/><rect x="31.5" y="44.8" width="0.6" height="5" fill="#1a1a1a"/><rect x="32.7" y="44.8" width="1.2" height="5" fill="#1a1a1a"/><rect x="35.2" y="44.8" width="0.6" height="5" fill="#1a1a1a"/><rect x="36.6" y="44.8" width="0.6" height="5" fill="#1a1a1a"/><rect x="38.5" y="44.8" width="0.6" height="5" fill="#1a1a1a"/><rect x="39.7" y="44.8" width="0.6" height="5" fill="#1a1a1a"/><rect x="40.9" y="44.8" width="1.5" height="5" fill="#1a1a1a"/><rect x="43.7" y="44.8" width="0.6" height="5" fill="#1a1a1a"/><rect x="45.1" y="44.8" width="0.6" height="5" fill="#1a1a1a"/><rect x="46.5" y="44.8" width="0.9" height="5" fill="#1a1a1a"/><rect x="48.7" y="44.8" width="0.6" height="5" fill="#1a1a1a"/><rect x="49.9" y="44.8" width="1.5" height="5" fill="#1a1a1a"/><rect x="52.4" y="44.8" width="1.5" height="5" fill="#1a1a1a"/><rect x="54.7" y="44.8" width="0.6" height="5" fill="#1a1a1a"/><rect x="56.1" y="44.8" width="0.9" height="5" fill="#1a1a1a"/><rect x="57.6" y="44.8" width="1.5" height="5" fill="#1a1a1a"/><rect x="59.7" y="44.8" width="1.5" height="5" fill="#1a1a1a"/><rect x="61.8" y="44.8" width="1.5" height="5" fill="#1a1a1a"/><rect x="64.1" y="44.8" width="1.2" height="5" fill="#1a1a1a"/><rect x="23" y="50.8" width="43" height="1.5" fill="#333" opacity="0.75"/><path d="M18.5 53.6 H70.5 V58.8 Q70.5 62 67.3 62 H59.5 Q57 62 56 58.5 Q54.5 54.6 50 54.6 H40 Q35.5 54.6 34 58.5 Q33 62 30.5 62 H21.7 Q18.5 62 18.5 58.8 Z" fill="#2c66b6"/><rect x="21" y="55.3" width="6" height="2.2" fill="#dfe9f6" opacity="0.9"/><rect x="58.5" y="55.8" width="9" height="1.3" fill="#a9c3e6" opacity="0.8"/><rect x="77.2" y="27.6" width="7.8" height="10.8" rx="1" fill="#2659d2"/><rect x="77.2" y="27.6" width="7.8" height="2" rx="1" fill="#5a86ec" opacity="0.7"/><rect x="77.2" y="41.4" width="7.8" height="11" rx="1" fill="#e3202a"/><rect x="77.2" y="41.4" width="7.8" height="2" rx="1" fill="#f36a70" opacity="0.7"/><rect x="89.2" y="42" width="2.8" height="10" rx="0.8" fill="#d8262c"/><circle cx="87.2" cy="47.3" r="0.8" fill="#222"/><rect x="2" y="78" width="9" height="6" fill="#dededa"/><rect x="81" y="78" width="9" height="6" fill="#dededa"/><path d="M10 81.5 H83 L85 86 H89 Q93 88 92.5 92 V105 Q92.5 110.8 87 110.8 H5.5 Q0 110.8 0 105 V92 Q-0.5 88 3.5 86 H8 Z" fill="url(#mterm)"/><rect x="10" y="83.3" width="73.5" height="23.6" rx="1.5" fill="#2b2b2b"/><rect x="10" y="83.3" width="73.5" height="5" fill="#3d3d3b"/><rect x="27" y="84.5" width="2" height="3.2" fill="#6b6448"/><rect x="31" y="84.5" width="2" height="3.2" fill="#6b6448"/><rect x="44" y="84.5" width="2" height="3.2" fill="#6b6448"/><rect x="48" y="84.5" width="2" height="3.2" fill="#6b6448"/><rect x="52" y="84.5" width="2" height="3.2" fill="#6b6448"/><rect x="57" y="84.5" width="2" height="3.2" fill="#6b6448"/><rect x="61" y="84.5" width="2" height="3.2" fill="#6b6448"/><ellipse cx="5.2" cy="97.5" rx="2.9" ry="1.8" fill="#f4f4f4" transform="rotate(-30 5.2 97.5)"/><ellipse cx="87.3" cy="97.5" rx="2.9" ry="1.8" fill="#f4f4f4" transform="rotate(30 87.3 97.5)"/><ellipse cx="38.5" cy="97" rx="4.6" ry="3.9" fill="#45433f" stroke="#d2d2d2" stroke-width="1.5"/><rect x="37.4" y="95.2" width="2.2" height="3.8" fill="#8a7a5a"/><ellipse cx="53.5" cy="97" rx="4.6" ry="3.9" fill="#45433f" stroke="#d2d2d2" stroke-width="1.5"/><rect x="52.4" y="95.2" width="2.2" height="3.8" fill="#8a7a5a"/><rect x="21.2" y="92.8" width="4.2" height="8.6" rx="1" fill="#8a7c6e"/><rect x="22.1" y="95.8" width="2.8" height="2.2" fill="#b8503f"/><rect x="68.7" y="92.8" width="4.2" height="8.6" rx="1" fill="#8a7c6e"/><rect x="69.6" y="95.8" width="2.8" height="2.2" fill="#b8503f"/><circle cx="3.6" cy="80.5" r="2.5" fill="url(#mscrew)" stroke="#6b6238" stroke-width="0.4"/><circle cx="88.6" cy="80.5" r="2.5" fill="url(#mscrew)" stroke="#6b6238" stroke-width="0.4"/><circle cx="-4.2" cy="93.2" r="5" fill="url(#mled)" stroke="#5a55c8" stroke-width="0.5"/></g><g transform="translate(310.8,403.7)"><g filter="url(#msh)" opacity="0.6"><rect x="8" y="8" width="91" height="74" rx="6" fill="#555"/><rect x="6" y="84" width="93" height="32" rx="5" fill="#444"/></g><path d="M7 0 H85.5 Q92.5 0 92.5 7 V76 Q92.5 81 88 81 H4 Q0 81 0 76 V7 Q0 0 7 0 Z" fill="url(#mbody)"/><path d="M13.5 1 V80" stroke="#d9d9d3" stroke-width="0.8"/><path d="M5 0.4 H87" stroke="#fff" stroke-width="0.8" opacity="0.8"/><rect x="0" y="74" width="92" height="7" fill="#d4d4ce" opacity="0.55"/><rect x="18.5" y="9" width="52" height="53" rx="3.2" fill="#c7d3dc" stroke="#e9eef2" stroke-width="0.9"/><rect x="27" y="11.2" width="35" height="1.6" fill="#5f86b4" opacity="0.75"/><rect x="21" y="14.6" width="47.2" height="13.4" fill="url(#mlcd)" stroke="#6c8f4c" stroke-width="0.5"/><text x="66.5" y="26.6" font-size="9.5" fill="#22301a" text-anchor="end" font-weight="bold" font-family='"Liberation Mono",monospace' letter-spacing="-0.4">000</text><rect x="34" y="16.3" width="4.5" height="1.4" fill="#3b5228" opacity="0.8"/><rect x="56" y="16.3" width="3" height="1.6" fill="#2c3f1f"/><rect x="60.5" y="16.3" width="5" height="1.6" fill="#2c3f1f" opacity="0.8"/><rect x="21.5" y="29.6" width="46" height="1.3" fill="#5d7fa8" opacity="0.7"/><rect x="21.5" y="32.6" width="46" height="1.3" fill="#6d8db2" opacity="0.6"/><circle cx="25.3" cy="39.3" r="1.6" fill="#111"/><circle cx="34.8" cy="39.3" r="1.6" fill="#111"/><rect x="27.8" y="38.4" width="4" height="1.6" fill="#55749a" opacity="0.7"/><rect x="37.5" y="38.4" width="4.5" height="1.6" fill="#55749a" opacity="0.7"/><rect x="44.8" y="37" width="12.6" height="4.6" rx="2.3" fill="#0c0c0c"/><rect x="51.5" y="38.4" width="4" height="1.7" fill="#eee"/><rect x="61" y="38.4" width="5.5" height="1.4" fill="#6f8fb3" opacity="0.6"/><rect x="21.6" y="43.8" width="46" height="9.6" fill="#fcfcfc"/><rect x="23" y="44.8" width="0.9" height="5" fill="#1a1a1a"/><rect x="24.7" y="44.8" width="1.2" height="5" fill="#1a1a1a"/><rect x="26.5" y="44.8" width="0.6" height="5" fill="#1a1a1a"/><rect x="27.7" y="44.8" width="0.9" height="5" fill="#1a1a1a"/><rect x="29.2" y="44.8" width="1.5" height="5" fill="#1a1a1a"/><rect x="31.5" y="44.8" width="0.6" height="5" fill="#1a1a1a"/><rect x="32.7" y="44.8" width="1.2" height="5" fill="#1a1a1a"/><rect x="35.2" y="44.8" width="0.6" height="5" fill="#1a1a1a"/><rect x="36.6" y="44.8" width="0.6" height="5" fill="#1a1a1a"/><rect x="38.5" y="44.8" width="0.6" height="5" fill="#1a1a1a"/><rect x="39.7" y="44.8" width="0.6" height="5" fill="#1a1a1a"/><rect x="40.9" y="44.8" width="1.5" height="5" fill="#1a1a1a"/><rect x="43.7" y="44.8" width="0.6" height="5" fill="#1a1a1a"/><rect x="45.1" y="44.8" width="0.6" height="5" fill="#1a1a1a"/><rect x="46.5" y="44.8" width="0.9" height="5" fill="#1a1a1a"/><rect x="48.7" y="44.8" width="0.6" height="5" fill="#1a1a1a"/><rect x="49.9" y="44.8" width="1.5" height="5" fill="#1a1a1a"/><rect x="52.4" y="44.8" width="1.5" height="5" fill="#1a1a1a"/><rect x="54.7" y="44.8" width="0.6" height="5" fill="#1a1a1a"/><rect x="56.1" y="44.8" width="0.9" height="5" fill="#1a1a1a"/><rect x="57.6" y="44.8" width="1.5" height="5" fill="#1a1a1a"/><rect x="59.7" y="44.8" width="1.5" height="5" fill="#1a1a1a"/><rect x="61.8" y="44.8" width="1.5" height="5" fill="#1a1a1a"/><rect x="64.1" y="44.8" width="1.2" height="5" fill="#1a1a1a"/><rect x="23" y="50.8" width="43" height="1.5" fill="#333" opacity="0.75"/><path d="M18.5 53.6 H70.5 V58.8 Q70.5 62 67.3 62 H59.5 Q57 62 56 58.5 Q54.5 54.6 50 54.6 H40 Q35.5 54.6 34 58.5 Q33 62 30.5 62 H21.7 Q18.5 62 18.5 58.8 Z" fill="#2c66b6"/><rect x="21" y="55.3" width="6" height="2.2" fill="#dfe9f6" opacity="0.9"/><rect x="58.5" y="55.8" width="9" height="1.3" fill="#a9c3e6" opacity="0.8"/><rect x="77.2" y="27.6" width="7.8" height="10.8" rx="1" fill="#2659d2"/><rect x="77.2" y="27.6" width="7.8" height="2" rx="1" fill="#5a86ec" opacity="0.7"/><rect x="77.2" y="41.4" width="7.8" height="11" rx="1" fill="#e3202a"/><rect x="77.2" y="41.4" width="7.8" height="2" rx="1" fill="#f36a70" opacity="0.7"/><rect x="89.2" y="42" width="2.8" height="10" rx="0.8" fill="#d8262c"/><circle cx="87.2" cy="47.3" r="0.8" fill="#222"/><rect x="2" y="78" width="9" height="6" fill="#dededa"/><rect x="81" y="78" width="9" height="6" fill="#dededa"/><path d="M10 81.5 H83 L85 86 H89 Q93 88 92.5 92 V105 Q92.5 110.8 87 110.8 H5.5 Q0 110.8 0 105 V92 Q-0.5 88 3.5 86 H8 Z" fill="url(#mterm)"/><rect x="10" y="83.3" width="73.5" height="23.6" rx="1.5" fill="#2b2b2b"/><rect x="10" y="83.3" width="73.5" height="5" fill="#3d3d3b"/><rect x="27" y="84.5" width="2" height="3.2" fill="#6b6448"/><rect x="31" y="84.5" width="2" height="3.2" fill="#6b6448"/><rect x="44" y="84.5" width="2" height="3.2" fill="#6b6448"/><rect x="48" y="84.5" width="2" height="3.2" fill="#6b6448"/><rect x="52" y="84.5" width="2" height="3.2" fill="#6b6448"/><rect x="57" y="84.5" width="2" height="3.2" fill="#6b6448"/><rect x="61" y="84.5" width="2" height="3.2" fill="#6b6448"/><ellipse cx="5.2" cy="97.5" rx="2.9" ry="1.8" fill="#f4f4f4" transform="rotate(-30 5.2 97.5)"/><ellipse cx="87.3" cy="97.5" rx="2.9" ry="1.8" fill="#f4f4f4" transform="rotate(30 87.3 97.5)"/><ellipse cx="38.5" cy="97" rx="4.6" ry="3.9" fill="#45433f" stroke="#d2d2d2" stroke-width="1.5"/><rect x="37.4" y="95.2" width="2.2" height="3.8" fill="#8a7a5a"/><ellipse cx="53.5" cy="97" rx="4.6" ry="3.9" fill="#45433f" stroke="#d2d2d2" stroke-width="1.5"/><rect x="52.4" y="95.2" width="2.2" height="3.8" fill="#8a7a5a"/><rect x="21.2" y="92.8" width="4.2" height="8.6" rx="1" fill="#8a7c6e"/><rect x="22.1" y="95.8" width="2.8" height="2.2" fill="#b8503f"/><rect x="68.7" y="92.8" width="4.2" height="8.6" rx="1" fill="#8a7c6e"/><rect x="69.6" y="95.8" width="2.8" height="2.2" fill="#b8503f"/><circle cx="3.6" cy="80.5" r="2.5" fill="url(#mscrew)" stroke="#6b6238" stroke-width="0.4"/><circle cx="88.6" cy="80.5" r="2.5" fill="url(#mscrew)" stroke="#6b6238" stroke-width="0.4"/><circle cx="-4.2" cy="93.2" r="5" fill="url(#mled)" stroke="#5a55c8" stroke-width="0.5"/></g><defs><linearGradient id="cbody" x1="0" y1="0" x2="1" y2="0"><stop offset="0" stop-color="#cfd2d3"/><stop offset="0.08" stop-color="#e6e8e9"/><stop offset="0.9" stop-color="#e2e4e5"/><stop offset="1" stop-color="#c3c6c7"/></linearGradient>
<filter id="csh" x="-40%" y="-10%" width="200%" height="130%"><feGaussianBlur stdDeviation="2.5"/></filter></defs><rect x="520" y="359" width="43" height="110" fill="#444" opacity="0.6" filter="url(#csh)"/><rect x="545" y="481" width="27" height="8" rx="3" fill="#444" opacity="0.45" filter="url(#csh)"/><rect x="527" y="349" width="17.5" height="7" rx="1.2" fill="#d9dbdc" stroke="#b5b8b9" stroke-width="0.6"/><rect x="532" y="350.8" width="7.5" height="1.6" rx="0.8" fill="#f6f6f6"/><path d="M513.8 354.2 H557 q1.4 4.69 0 9.38 q1.4 4.69 0 9.38 q1.4 4.69 0 9.38 q1.4 4.69 0 9.38 q1.4 4.69 0 9.38 q1.4 4.69 0 9.38 q1.4 4.69 0 9.38 q1.4 4.69 0 9.38 q1.4 4.69 0 9.38 q1.4 4.69 0 9.38 q1.4 4.69 0 9.38 q1.4 4.69 0 9.38 H513.8 q-1.4 -4.69 0 -9.38 q-1.4 -4.69 0 -9.38 q-1.4 -4.69 0 -9.38 q-1.4 -4.69 0 -9.38 q-1.4 -4.69 0 -9.38 q-1.4 -4.69 0 -9.38 q-1.4 -4.69 0 -9.38 q-1.4 -4.69 0 -9.38 q-1.4 -4.69 0 -9.38 q-1.4 -4.69 0 -9.38 q-1.4 -4.69 0 -9.38 q-1.4 -4.69 0 -9.38 Z" fill="url(#cbody)" stroke="#b9bcbd" stroke-width="0.5"/><rect x="517.3" y="358.1" width="35.6" height="56.4" rx="1.8" fill="#b3b8ba"/><rect x="527" y="366.8" width="13.5" height="5" rx="2.5" fill="#e3262a" stroke="#8e1c1e" stroke-width="0.8"/><rect x="530" y="368.2" width="7" height="1.4" rx="0.7" fill="#f57a6a"/><circle cx="520.9" cy="369.7" r="1.25" fill="#1a1a1a"/><circle cx="520.9" cy="378.4" r="1.25" fill="#1a1a1a"/><text x="533.8" y="375.2" font-size="2.6" fill="#333" text-anchor="middle" font-weight="normal" font-family='"Liberation Sans","Noto Sans CJK SC",sans-serif' >红外通信</text><text x="520.9" y="374.6" font-size="2.4" fill="#333" text-anchor="middle" font-weight="normal" font-family='"Liberation Sans","Noto Sans CJK SC",sans-serif' >运行</text><text x="520.9" y="383.3" font-size="2.4" fill="#333" text-anchor="middle" font-weight="normal" font-family='"Liberation Sans","Noto Sans CJK SC",sans-serif' >告警</text><text x="534" y="400.6" font-size="7.6" fill="#2e2e2e" text-anchor="middle" font-weight="600" font-family='"Liberation Serif","Noto Serif CJK SC",serif' textLength="23.5" lengthAdjust="spacingAndGlyphs" >采集器</text><path d="M516 450.5 H555 M519 455 h6 m3 0 h6 m3 0 h6 m3 0 h6 M521 458 l3 3 h6 l3 -3 M538 458 l3 3 h6 l3 -3" stroke="#c4c7c8" stroke-width="0.6" fill="none"/><rect x="532.3" y="466.5" width="7" height="13" fill="#6e5f34"/><rect x="531.4" y="470" width="8.8" height="2" fill="#a5945a"/><rect x="531.4" y="475" width="8.8" height="2" fill="#a5945a"/><rect x="531.2" y="478.6" width="9.2" height="9.2" rx="1" fill="#5e522e"/><rect x="533" y="480" width="3" height="6" fill="#95854f"/><path d="M540 480 H563.5 Q567.5 480 567.5 483.3 Q567.5 486.8 563.5 486.8 H540 Z" fill="#161616"/><rect x="541" y="481" width="24" height="1.3" rx="0.6" fill="#4a4a4a"/><rect x="79.6" y="557.6" width="221.2" height="37" rx="12.5" fill="#59c8f2"/><text x="89.6" y="585.3" font-size="19.6" fill="#c9d6dc" text-anchor="start" font-weight="normal" font-family='"Liberation Sans","Noto Sans CJK SC",sans-serif' textLength="201.5" lengthAdjust="spacingAndGlyphs" opacity="0.6">485预付费电表</text><text x="89.2" y="584.5" font-size="19.6" fill="#ffffff" text-anchor="start" font-weight="normal" font-family='"Liberation Sans","Noto Sans CJK SC",sans-serif' textLength="201.5" lengthAdjust="spacingAndGlyphs" >485预付费电表</text><rect x="463.4" y="504.7" width="133.2" height="37" rx="12.5" fill="#59c8f2"/><text x="482.6" y="531.8" font-size="19.6" fill="#c9d6dc" text-anchor="start" font-weight="normal" font-family='"Liberation Sans","Noto Sans CJK SC",sans-serif' textLength="93" lengthAdjust="spacingAndGlyphs" opacity="0.6">采集器</text><text x="482.2" y="531" font-size="19.6" fill="#ffffff" text-anchor="start" font-weight="normal" font-family='"Liberation Sans","Noto Sans CJK SC",sans-serif' textLength="93" lengthAdjust="spacingAndGlyphs" >采集器</text><defs>
<linearGradient id="chin" gradientUnits="userSpaceOnUse" x1="0" y1="297" x2="0" y2="331"><stop offset="0" stop-color="#e0e0e0"/><stop offset="0.7" stop-color="#cdcdcd"/><stop offset="1" stop-color="#b9b9b9"/></linearGradient>
<linearGradient id="neck" x1="0" y1="0" x2="0" y2="1"><stop offset="0" stop-color="#8e8e8e"/><stop offset="0.18" stop-color="#c9c9c9"/><stop offset="0.55" stop-color="#d6d6d6"/><stop offset="1" stop-color="#c2c2c2"/></linearGradient>
<linearGradient id="bezel" x1="0" y1="0" x2="1" y2="0"><stop offset="0" stop-color="#2e2e2e"/><stop offset="0.04" stop-color="#1a1a1a"/><stop offset="0.96" stop-color="#151515"/><stop offset="1" stop-color="#0c0c0c"/></linearGradient>
<filter id="stsh" x="-10%" y="-50%" width="120%" height="200%"><feGaussianBlur stdDeviation="1.6"/></filter><filter id="monsh" x="-10%" y="-10%" width="120%" height="130%"><feGaussianBlur stdDeviation="3"/></filter>
<clipPath id="scr"><rect x="784.5" y="98" width="328.3" height="184.5"/></clipPath>
</defs><rect x="776" y="92" width="357" height="240" rx="9" fill="#222" opacity="0.75" filter="url(#monsh)"/><path d="M890 372 H1012 Q1018 378 1006 381.5 H897 Q884 378 890 372 Z" fill="#1c1c1c" opacity="0.9" filter="url(#stsh)"/><path d="M904.5 329 H994 Q996 356 1012.5 370.5 Q1015 373.5 1010 374 H892 Q886.5 373.5 889.5 370.5 Q903 356 904.5 329 Z" fill="url(#neck)"/><path d="M778 83.5 H1119 Q1127 83.5 1127 91.5 V322 Q1127 330.5 1119 330.5 H778 Q770 330.5 770 322 V91.5 Q770 83.5 778 83.5 Z" fill="url(#chin)"/><path d="M778 83.5 H1119 Q1127 83.5 1127 91.5 V296.8 H770 V91.5 Q770 83.5 778 83.5 Z" fill="url(#bezel)"/><path d="M774 330.5 H1123 Q1124 334 1117 334.5 H780 Q773 334 774 330.5 Z" fill="#3a3a3a"/><g clip-path="url(#scr)"><rect x="784.5" y="98" width="328.3" height="184.5" fill="#f0f1f3"/><rect x="784.5" y="98" width="328.3" height="9.2" fill="#fff"/><rect x="784.5" y="107" width="28.8" height="176" fill="#fff"/><ellipse cx="791.5" cy="102" rx="3.2" ry="2.1" fill="#d42a2a"/><ellipse cx="794.2" cy="102" rx="3" ry="2" fill="#2a4fb0"/><ellipse cx="793.6" cy="102" rx="1.4" ry="0.9" fill="#fff"/><text x="799" y="103.6" font-size="3.4" fill="#222" text-anchor="start" font-weight="bold" font-family='"Liberation Sans","Noto Sans CJK SC",sans-serif' >华窗管家</text><text x="820.6" y="103.2" font-size="2.7" fill="#333" text-anchor="middle" font-weight="normal" font-family='"Liberation Sans","Noto Sans CJK SC",sans-serif' >首页</text><text x="834.4" y="103.2" font-size="2.7" fill="#333" text-anchor="middle" font-weight="normal" font-family='"Liberation Sans","Noto Sans CJK SC",sans-serif' >水费管理</text><text x="851.5" y="103.2" font-size="2.7" fill="#333" text-anchor="middle" font-weight="normal" font-family='"Liberation Sans","Noto Sans CJK SC",sans-serif' >分红管理</text><text x="867.7" y="103.2" font-size="2.7" fill="#333" text-anchor="middle" font-weight="normal" font-family='"Liberation Sans","Noto Sans CJK SC",sans-serif' >通知管理</text><text x="884" y="103.2" font-size="2.7" fill="#333" text-anchor="middle" font-weight="normal" font-family='"Liberation Sans","Noto Sans CJK SC",sans-serif' >分摊记录</text><text x="901.8" y="103.2" font-size="2.7" fill="#333" text-anchor="middle" font-weight="normal" font-family='"Liberation Sans","Noto Sans CJK SC",sans-serif' >水电气报量</text><text x="918.9" y="103.2" font-size="2.7" fill="#333" text-anchor="middle" font-weight="normal" font-family='"Liberation Sans","Noto Sans CJK SC",sans-serif' >电量管理</text><text x="936" y="103.2" font-size="2.7" fill="#333" text-anchor="middle" font-weight="normal" font-family='"Liberation Sans","Noto Sans CJK SC",sans-serif' >绑扎管理</text><rect x="814" y="106.6" width="13" height="0.8" fill="#3fb27f"/><ellipse cx="1099.6" cy="102" rx="2" ry="1.8" fill="#c9285a"/><ellipse cx="1101" cy="102" rx="1.5" ry="1.2" fill="#fff"/><ellipse cx="1098.6" cy="102" rx="1" ry="1.4" fill="#2a4fb0"/><text x="1104" y="103" font-size="2.4" fill="#555" text-anchor="start" font-weight="normal" font-family='"Liberation Sans","Noto Sans CJK SC",sans-serif' >管</text><text x="789" y="114" font-size="2.6" fill="#333" text-anchor="middle" font-weight="normal" font-family='"Liberation Sans","Noto Sans CJK SC",sans-serif' >首页</text><rect x="815" y="111.2" width="295" height="38.2" fill="#fff"/><text x="859.1" y="118.8" font-size="2.5" fill="#555" text-anchor="middle" font-weight="normal" font-family='"Liberation Sans","Noto Sans CJK SC",sans-serif' >本月总费用</text><text x="859.1" y="129.7" font-size="7.9" fill="#555" text-anchor="middle" font-weight="normal" font-family='"Liberation Sans","Noto Sans CJK SC",sans-serif' textLength="25.06" lengthAdjust="spacingAndGlyphs" >9775.00</text><path d="M893.45 116 V145" stroke="#ececec" stroke-width="0.5"/><text x="927.8" y="118.8" font-size="2.5" fill="#555" text-anchor="middle" font-weight="normal" font-family='"Liberation Sans","Noto Sans CJK SC",sans-serif' >本月总电费</text><text x="927.8" y="129.7" font-size="7.9" fill="#555" text-anchor="middle" font-weight="normal" font-family='"Liberation Sans","Noto Sans CJK SC",sans-serif' textLength="25.06" lengthAdjust="spacingAndGlyphs" >3577.27</text><path d="M962.1 116 V145" stroke="#ececec" stroke-width="0.5"/><text x="996.4" y="118.8" font-size="2.5" fill="#555" text-anchor="middle" font-weight="normal" font-family='"Liberation Sans","Noto Sans CJK SC",sans-serif' >本月总水费</text><text x="996.4" y="129.7" font-size="7.9" fill="#555" text-anchor="middle" font-weight="normal" font-family='"Liberation Sans","Noto Sans CJK SC",sans-serif' textLength="21.48" lengthAdjust="spacingAndGlyphs" >934.03</text><path d="M1030.6 116 V145" stroke="#ececec" stroke-width="0.5"/><text x="1064.8" y="118.8" font-size="2.5" fill="#555" text-anchor="middle" font-weight="normal" font-family='"Liberation Sans","Noto Sans CJK SC",sans-serif' >用户总余额</text><text x="1064.8" y="129.7" font-size="7.9" fill="#555" text-anchor="middle" font-weight="normal" font-family='"Liberation Sans","Noto Sans CJK SC",sans-serif' textLength="28.64" lengthAdjust="spacingAndGlyphs" >91238.21</text><path d="M832 142.46 L833.36 141.69 L834.73 140.77 L836.09 139.79 L837.45 138.84 L838.81 138.01 L840.17 137.37 L841.54 136.99 L842.9 136.89 L844.26 137.1 L845.62 137.57 L846.99 138.28 L848.35 139.15 L849.71 140.1 L851.08 141.03 L852.44 141.87 L853.8 142.52 L855.16 142.92 L856.52 143.02 L857.89 142.81 L859.25 142.3 L860.61 141.52 L861.98 140.54 L863.34 139.43 L864.7 138.29 L866.06 137.21 L867.42 136.29 L868.79 135.61 L870.15 135.22 L871.51 135.16 L872.88 135.44 L874.24 136.04 L875.6 136.9 L876.96 137.97 L878.33 139.15 L879.69 140.34 L881.05 141.45 L882.41 142.39 L883.77 143.09 L885.14 143.49 L886.5 143.56" fill="none" stroke="#8fdcc6" stroke-width="0.7"/><path d="M900 139.56 L901.38 140.35 L902.75 141.16 L904.12 141.91 L905.5 142.55 L906.88 143.04 L908.25 143.32 L909.62 143.36 L911 143.17 L912.38 142.73 L913.75 142.08 L915.12 141.25 L916.5 140.3 L917.88 139.28 L919.25 138.25 L920.62 137.29 L922 136.46 L923.38 135.81 L924.75 135.38 L926.12 135.21 L927.5 135.31 L928.88 135.66 L930.25 136.24 L931.62 137.03 L933 137.95 L934.38 138.96 L935.75 139.99 L937.12 140.97 L938.5 141.84 L939.88 142.55 L941.25 143.05 L942.62 143.32 L944 143.34 L945.38 143.13 L946.75 142.7 L948.12 142.1 L949.5 141.37 L950.88 140.58 L952.25 139.78 L953.62 139.03 L955 138.4" fill="none" stroke="#f39a90" stroke-width="0.7"/><path d="M969 142.17 L970.37 140.78 L971.74 139.28 L973.1 137.88 L974.47 136.77 L975.84 136.11 L977.21 136 L978.57 136.45 L979.94 137.43 L981.31 138.8 L982.67 140.39 L984.04 141.99 L985.41 143.4 L986.78 144.42 L988.14 144.92 L989.51 144.82 L990.88 144.12 L992.25 142.89 L993.62 141.28 L994.98 139.49 L996.35 137.72 L997.72 136.19 L999.09 135.09 L1000.45 134.54 L1001.82 134.6 L1003.19 135.25 L1004.56 136.41 L1005.92 137.91 L1007.29 139.57 L1008.66 141.17 L1010.03 142.5 L1011.39 143.4 L1012.76 143.77 L1014.13 143.56 L1015.5 142.81 L1016.86 141.64 L1018.23 140.21 L1019.6 138.72 L1020.97 137.38 L1022.33 136.38 L1023.7 135.86" fill="none" stroke="#84c8f2" stroke-width="0.7"/><path d="M1038 141.99 L1039.38 142.04 L1040.75 142 L1042.12 141.87 L1043.5 141.65 L1044.88 141.38 L1046.25 141.08 L1047.62 140.79 L1049 140.55 L1050.38 140.39 L1051.75 140.34 L1053.12 140.43 L1054.5 140.67 L1055.88 141.04 L1057.25 141.53 L1058.62 142.06 L1060 142.53 L1061.38 142.8 L1062.75 142.75 L1064.12 142.28 L1065.5 141.42 L1066.88 140.28 L1068.25 139.05 L1069.62 137.99 L1071 137.32 L1072.38 137.19 L1073.75 137.66 L1075.12 138.64 L1076.5 139.97 L1077.88 141.42 L1079.25 142.73 L1080.62 143.66 L1082 144.04 L1083.38 143.81 L1084.75 142.99 L1086.12 141.71 L1087.5 140.17 L1088.88 138.63 L1090.25 137.32 L1091.62 136.47 L1093 136.21" fill="none" stroke="#c3bdf3" stroke-width="0.7"/><rect x="815" y="153.4" width="46.3" height="27" fill="#f4511e"/><text x="838.2" y="162.3" font-size="2.6" fill="#fff" text-anchor="middle" font-weight="bold" font-family='"Liberation Sans","Noto Sans CJK SC",sans-serif' >本月用电量</text><text x="838.2" y="171.2" font-size="6.6" fill="#fff" text-anchor="middle" font-weight="bold" font-family='"Liberation Sans","Noto Sans CJK SC",sans-serif' textLength="19.25" lengthAdjust="spacingAndGlyphs" >6013.82</text><rect x="865" y="153.4" width="46.3" height="27" fill="#2196f3"/><text x="888.2" y="162.3" font-size="2.6" fill="#fff" text-anchor="middle" font-weight="bold" font-family='"Liberation Sans","Noto Sans CJK SC",sans-serif' >本月用水量</text><text x="888.2" y="171.2" font-size="6.6" fill="#fff" text-anchor="middle" font-weight="bold" font-family='"Liberation Sans","Noto Sans CJK SC",sans-serif' textLength="16.5" lengthAdjust="spacingAndGlyphs" >214.80</text><rect x="815" y="184.6" width="46.3" height="27" fill="#ffb300"/><text x="838.2" y="193.5" font-size="2.6" fill="#fff" text-anchor="middle" font-weight="bold" font-family='"Liberation Sans","Noto Sans CJK SC",sans-serif' >总注册用户</text><text x="838.2" y="202.4" font-size="6.6" fill="#fff" text-anchor="middle" font-weight="bold" font-family='"Liberation Sans","Noto Sans CJK SC",sans-serif' textLength="16.5" lengthAdjust="spacingAndGlyphs" >97/394</text><rect x="865" y="184.6" width="46.3" height="27" fill="#14917c"/><text x="888.2" y="193.5" font-size="2.6" fill="#fff" text-anchor="middle" font-weight="bold" font-family='"Liberation Sans","Noto Sans CJK SC",sans-serif' >在线/小区数</text><text x="888.2" y="202.4" font-size="6.6" fill="#fff" text-anchor="middle" font-weight="bold" font-family='"Liberation Sans","Noto Sans CJK SC",sans-serif' textLength="8.25" lengthAdjust="spacingAndGlyphs" >3/4</text><rect x="913.3" y="153.4" width="196.7" height="58.2" fill="#fff"/><text x="916" y="158.6" font-size="2.7" fill="#333" text-anchor="start" font-weight="normal" font-family='"Liberation Sans","Noto Sans CJK SC",sans-serif' >余额不足用户</text><rect x="913.3" y="163.6" width="196.7" height="5" fill="#f3f3f3"/><text x="916" y="167.2" font-size="2.5" fill="#444" text-anchor="start" font-weight="normal" font-family='"Liberation Sans","Noto Sans CJK SC",sans-serif' >区名</text><text x="940.5" y="167.2" font-size="2.5" fill="#444" text-anchor="start" font-weight="normal" font-family='"Liberation Sans","Noto Sans CJK SC",sans-serif' >房号</text><text x="970" y="167.2" font-size="2.5" fill="#444" text-anchor="start" font-weight="normal" font-family='"Liberation Sans","Noto Sans CJK SC",sans-serif' >户主</text><text x="1001.8" y="167.2" font-size="2.5" fill="#444" text-anchor="start" font-weight="normal" font-family='"Liberation Sans","Noto Sans CJK SC",sans-serif' >联系电话</text><text x="1052" y="167.2" font-size="2.5" fill="#444" text-anchor="start" font-weight="normal" font-family='"Liberation Sans","Noto Sans CJK SC",sans-serif' >余额</text><text x="1083" y="167.2" font-size="2.5" fill="#444" text-anchor="start" font-weight="normal" font-family='"Liberation Sans","Noto Sans CJK SC",sans-serif' >操作栏</text><text x="916" y="172.9" font-size="2.4" fill="#555" text-anchor="start" font-weight="normal" font-family='"Liberation Sans","Noto Sans CJK SC",sans-serif' >小区</text><text x="940.5" y="172.9" font-size="2.4" fill="#555" text-anchor="start" font-weight="normal" font-family='"Liberation Sans","Noto Sans CJK SC",sans-serif' >101房</text><text x="970" y="172.9" font-size="2.4" fill="#555" text-anchor="start" font-weight="normal" font-family='"Liberation Sans","Noto Sans CJK SC",sans-serif' >张三</text><text x="1001.8" y="172.9" font-size="2.4" fill="#888" text-anchor="start" font-weight="normal" font-family='"Liberation Sans","Noto Sans CJK SC",sans-serif' >13800001234</text><text x="1052" y="172.9" font-size="2.4" fill="#888" text-anchor="start" font-weight="normal" font-family='"Liberation Sans","Noto Sans CJK SC",sans-serif' >-10.56</text><rect x="1081.9" y="169.95" width="6.8" height="4.1" rx="0.5" fill="#14917c"/><text x="1085.3" y="172.8" font-size="2.2" fill="#fff" text-anchor="middle" font-weight="normal" font-family='"Liberation Sans","Noto Sans CJK SC",sans-serif' >催缴</text><rect x="1090.3" y="169.95" width="6.8" height="4.1" rx="0.5" fill="#2196f3"/><text x="1093.7" y="172.8" font-size="2.2" fill="#fff" text-anchor="middle" font-weight="normal" font-family='"Liberation Sans","Noto Sans CJK SC",sans-serif' >短信</text><rect x="1099" y="169.95" width="6.8" height="4.1" rx="0.5" fill="#f4511e"/><text x="1102.4" y="172.8" font-size="2.2" fill="#fff" text-anchor="middle" font-weight="normal" font-family='"Liberation Sans","Noto Sans CJK SC",sans-serif' >停用</text><text x="916" y="179.42" font-size="2.4" fill="#555" text-anchor="start" font-weight="normal" font-family='"Liberation Sans","Noto Sans CJK SC",sans-serif' >小区</text><text x="940.5" y="179.42" font-size="2.4" fill="#555" text-anchor="start" font-weight="normal" font-family='"Liberation Sans","Noto Sans CJK SC",sans-serif' >102房</text><text x="970" y="179.42" font-size="2.4" fill="#555" text-anchor="start" font-weight="normal" font-family='"Liberation Sans","Noto Sans CJK SC",sans-serif' >赵四族</text><text x="1001.8" y="179.42" font-size="2.4" fill="#888" text-anchor="start" font-weight="normal" font-family='"Liberation Sans","Noto Sans CJK SC",sans-serif' >18670001234</text><text x="1052" y="179.42" font-size="2.4" fill="#888" text-anchor="start" font-weight="normal" font-family='"Liberation Sans","Noto Sans CJK SC",sans-serif' >-8.12</text><path d="M913.3 175.32 H1110" stroke="#f1f1f1" stroke-width="0.4"/><rect x="1081.9" y="176.47" width="6.8" height="4.1" rx="0.5" fill="#14917c"/><text x="1085.3" y="179.32" font-size="2.2" fill="#fff" text-anchor="middle" font-weight="normal" font-family='"Liberation Sans","Noto Sans CJK SC",sans-serif' >催缴</text><rect x="1090.3" y="176.47" width="6.8" height="4.1" rx="0.5" fill="#2196f3"/><text x="1093.7" y="179.32" font-size="2.2" fill="#fff" text-anchor="middle" font-weight="normal" font-family='"Liberation Sans","Noto Sans CJK SC",sans-serif' >短信</text><rect x="1099" y="176.47" width="6.8" height="4.1" rx="0.5" fill="#f4511e"/><text x="1102.4" y="179.32" font-size="2.2" fill="#fff" text-anchor="middle" font-weight="normal" font-family='"Liberation Sans","Noto Sans CJK SC",sans-serif' >停用</text><text x="916" y="185.94" font-size="2.4" fill="#555" text-anchor="start" font-weight="normal" font-family='"Liberation Sans","Noto Sans CJK SC",sans-serif' >小区</text><text x="940.5" y="185.94" font-size="2.4" fill="#555" text-anchor="start" font-weight="normal" font-family='"Liberation Sans","Noto Sans CJK SC",sans-serif' >103房</text><text x="970" y="185.94" font-size="2.4" fill="#555" text-anchor="start" font-weight="normal" font-family='"Liberation Sans","Noto Sans CJK SC",sans-serif' >燕王</text><text x="1001.8" y="185.94" font-size="2.4" fill="#888" text-anchor="start" font-weight="normal" font-family='"Liberation Sans","Noto Sans CJK SC",sans-serif' >15700001234</text><text x="1052" y="185.94" font-size="2.4" fill="#888" text-anchor="start" font-weight="normal" font-family='"Liberation Sans","Noto Sans CJK SC",sans-serif' >-6.13</text><path d="M913.3 181.84 H1110" stroke="#f1f1f1" stroke-width="0.4"/><rect x="1081.9" y="182.99" width="6.8" height="4.1" rx="0.5" fill="#14917c"/><text x="1085.3" y="185.84" font-size="2.2" fill="#fff" text-anchor="middle" font-weight="normal" font-family='"Liberation Sans","Noto Sans CJK SC",sans-serif' >催缴</text><rect x="1090.3" y="182.99" width="6.8" height="4.1" rx="0.5" fill="#2196f3"/><text x="1093.7" y="185.84" font-size="2.2" fill="#fff" text-anchor="middle" font-weight="normal" font-family='"Liberation Sans","Noto Sans CJK SC",sans-serif' >短信</text><rect x="1099" y="182.99" width="6.8" height="4.1" rx="0.5" fill="#f4511e"/><text x="1102.4" y="185.84" font-size="2.2" fill="#fff" text-anchor="middle" font-weight="normal" font-family='"Liberation Sans","Noto Sans CJK SC",sans-serif' >停用</text><text x="916" y="192.46" font-size="2.4" fill="#555" text-anchor="start" font-weight="normal" font-family='"Liberation Sans","Noto Sans CJK SC",sans-serif' >小区</text><text x="940.5" y="192.46" font-size="2.4" fill="#555" text-anchor="start" font-weight="normal" font-family='"Liberation Sans","Noto Sans CJK SC",sans-serif' >104房</text><text x="970" y="192.46" font-size="2.4" fill="#555" text-anchor="start" font-weight="normal" font-family='"Liberation Sans","Noto Sans CJK SC",sans-serif' >金满仓</text><text x="1001.8" y="192.46" font-size="2.4" fill="#888" text-anchor="start" font-weight="normal" font-family='"Liberation Sans","Noto Sans CJK SC",sans-serif' >17200001234</text><text x="1052" y="192.46" font-size="2.4" fill="#888" text-anchor="start" font-weight="normal" font-family='"Liberation Sans","Noto Sans CJK SC",sans-serif' >-4.21</text><path d="M913.3 188.36 H1110" stroke="#f1f1f1" stroke-width="0.4"/><rect x="1081.9" y="189.51" width="6.8" height="4.1" rx="0.5" fill="#14917c"/><text x="1085.3" y="192.36" font-size="2.2" fill="#fff" text-anchor="middle" font-weight="normal" font-family='"Liberation Sans","Noto Sans CJK SC",sans-serif' >催缴</text><rect x="1090.3" y="189.51" width="6.8" height="4.1" rx="0.5" fill="#2196f3"/><text x="1093.7" y="192.36" font-size="2.2" fill="#fff" text-anchor="middle" font-weight="normal" font-family='"Liberation Sans","Noto Sans CJK SC",sans-serif' >短信</text><rect x="1099" y="189.51" width="6.8" height="4.1" rx="0.5" fill="#f4511e"/><text x="1102.4" y="192.36" font-size="2.2" fill="#fff" text-anchor="middle" font-weight="normal" font-family='"Liberation Sans","Noto Sans CJK SC",sans-serif' >停用</text><text x="916" y="198.98" font-size="2.4" fill="#555" text-anchor="start" font-weight="normal" font-family='"Liberation Sans","Noto Sans CJK SC",sans-serif' >小区</text><text x="940.5" y="198.98" font-size="2.4" fill="#555" text-anchor="start" font-weight="normal" font-family='"Liberation Sans","Noto Sans CJK SC",sans-serif' >105房</text><text x="970" y="198.98" font-size="2.4" fill="#555" text-anchor="start" font-weight="normal" font-family='"Liberation Sans","Noto Sans CJK SC",sans-serif' >-</text><text x="1001.8" y="198.98" font-size="2.4" fill="#888" text-anchor="start" font-weight="normal" font-family='"Liberation Sans","Noto Sans CJK SC",sans-serif' ></text><text x="1052" y="198.98" font-size="2.4" fill="#888" text-anchor="start" font-weight="normal" font-family='"Liberation Sans","Noto Sans CJK SC",sans-serif' >-3.12</text><path d="M913.3 194.88 H1110" stroke="#f1f1f1" stroke-width="0.4"/><rect x="1081.9" y="196.03" width="6.8" height="4.1" rx="0.5" fill="#14917c"/><text x="1085.3" y="198.88" font-size="2.2" fill="#fff" text-anchor="middle" font-weight="normal" font-family='"Liberation Sans","Noto Sans CJK SC",sans-serif' >催缴</text><rect x="1090.3" y="196.03" width="6.8" height="4.1" rx="0.5" fill="#2196f3"/><text x="1093.7" y="198.88" font-size="2.2" fill="#fff" text-anchor="middle" font-weight="normal" font-family='"Liberation Sans","Noto Sans CJK SC",sans-serif' >短信</text><rect x="1099" y="196.03" width="6.8" height="4.1" rx="0.5" fill="#f4511e"/><text x="1102.4" y="198.88" font-size="2.2" fill="#fff" text-anchor="middle" font-weight="normal" font-family='"Liberation Sans","Noto Sans CJK SC",sans-serif' >停用</text><rect x="968" y="204.5" width="6.5" height="6.5" fill="#2196f3"/><text x="971.2" y="208.7" font-size="2.8" fill="#fff" text-anchor="middle" font-weight="normal" font-family='"Liberation Sans","Noto Sans CJK SC",sans-serif' >1</text><text x="961.5" y="208.7" font-size="2.5" fill="#666" text-anchor="middle" font-weight="normal" font-family='"Liberation Sans","Noto Sans CJK SC",sans-serif' >‹</text><text x="977.8" y="208.7" font-size="2.5" fill="#666" text-anchor="middle" font-weight="normal" font-family='"Liberation Sans","Noto Sans CJK SC",sans-serif' >2</text><text x="984.3" y="208.7" font-size="2.5" fill="#666" text-anchor="middle" font-weight="normal" font-family='"Liberation Sans","Noto Sans CJK SC",sans-serif' >3</text><text x="990.8" y="208.7" font-size="2.5" fill="#666" text-anchor="middle" font-weight="normal" font-family='"Liberation Sans","Noto Sans CJK SC",sans-serif' >4</text><text x="997.3" y="208.7" font-size="2.5" fill="#666" text-anchor="middle" font-weight="normal" font-family='"Liberation Sans","Noto Sans CJK SC",sans-serif' >5</text><text x="1004.2" y="208.7" font-size="2.5" fill="#666" text-anchor="middle" font-weight="normal" font-family='"Liberation Sans","Noto Sans CJK SC",sans-serif' >…</text><text x="1011.5" y="208.7" font-size="2.5" fill="#666" text-anchor="middle" font-weight="normal" font-family='"Liberation Sans","Noto Sans CJK SC",sans-serif' >22</text><text x="1021.3" y="208.7" font-size="2.5" fill="#666" text-anchor="middle" font-weight="normal" font-family='"Liberation Sans","Noto Sans CJK SC",sans-serif' >下一页</text><text x="1032.6" y="208.7" font-size="2.5" fill="#666" text-anchor="middle" font-weight="normal" font-family='"Liberation Sans","Noto Sans CJK SC",sans-serif' >到 第 页</text><text x="1042.5" y="208.7" font-size="2.5" fill="#666" text-anchor="middle" font-weight="normal" font-family='"Liberation Sans","Noto Sans CJK SC",sans-serif' >确定</text><text x="1049.7" y="208.7" font-size="2.5" fill="#666" text-anchor="middle" font-weight="normal" font-family='"Liberation Sans","Noto Sans CJK SC",sans-serif' >共</text><text x="1056.2" y="208.7" font-size="2.5" fill="#666" text-anchor="middle" font-weight="normal" font-family='"Liberation Sans","Noto Sans CJK SC",sans-serif' >条</text><text x="1063" y="208.7" font-size="2.5" fill="#666" text-anchor="middle" font-weight="normal" font-family='"Liberation Sans","Noto Sans CJK SC",sans-serif' >■■</text><rect x="815" y="217" width="145" height="7.2" fill="#f3f3f3"/><text x="817.5" y="222" font-size="2.9" fill="#333" text-anchor="start" font-weight="normal" font-family='"Liberation Sans","Noto Sans CJK SC",sans-serif' >本年度费用走势</text><rect x="815" y="224.2" width="145" height="53.2" fill="#fff"/><rect x="873.8" y="228.2" width="3.4" height="1.8" rx="0.9" fill="#8ecbf7"/><text x="878.1" y="230.1" font-size="2.4" fill="#555" text-anchor="start" font-weight="normal" font-family='"Liberation Sans","Noto Sans CJK SC",sans-serif' >电量</text><rect x="884.8" y="228.2" width="3.4" height="1.8" rx="0.9" fill="#f6a58a"/><text x="889.1" y="230.1" font-size="2.4" fill="#555" text-anchor="start" font-weight="normal" font-family='"Liberation Sans","Noto Sans CJK SC",sans-serif' >水量</text><rect x="895.8" y="228.2" width="3.4" height="1.8" rx="0.9" fill="#f8d97c"/><text x="900.1" y="230.1" font-size="2.4" fill="#555" text-anchor="start" font-weight="normal" font-family='"Liberation Sans","Noto Sans CJK SC",sans-serif' >气量</text><text x="826.7" y="235.5" font-size="2.2" fill="#666" text-anchor="start" font-weight="normal" font-family='"Liberation Sans","Noto Sans CJK SC",sans-serif' >金额（元）</text><path d="M830.7 238.7 H944.3" stroke="#e6e6e6" stroke-width="0.4"/><text x="829.5" y="239.5" font-size="2" fill="#666" text-anchor="end" font-weight="normal" font-family='"Liberation Sans","Noto Sans CJK SC",sans-serif' >35000</text><path d="M830.7 242.32 H944.3" stroke="#e6e6e6" stroke-width="0.4"/><text x="829.5" y="243.12" font-size="2" fill="#666" text-anchor="end" font-weight="normal" font-family='"Liberation Sans","Noto Sans CJK SC",sans-serif' >30000</text><path d="M830.7 245.94 H944.3" stroke="#e6e6e6" stroke-width="0.4"/><text x="829.5" y="246.74" font-size="2" fill="#666" text-anchor="end" font-weight="normal" font-family='"Liberation Sans","Noto Sans CJK SC",sans-serif' >25000</text><path d="M830.7 249.56 H944.3" stroke="#e6e6e6" stroke-width="0.4"/><text x="829.5" y="250.36" font-size="2" fill="#666" text-anchor="end" font-weight="normal" font-family='"Liberation Sans","Noto Sans CJK SC",sans-serif' >20000</text><path d="M830.7 253.18 H944.3" stroke="#e6e6e6" stroke-width="0.4"/><text x="829.5" y="253.98" font-size="2" fill="#666" text-anchor="end" font-weight="normal" font-family='"Liberation Sans","Noto Sans CJK SC",sans-serif' >15000</text><path d="M830.7 256.8 H944.3" stroke="#e6e6e6" stroke-width="0.4"/><text x="829.5" y="257.6" font-size="2" fill="#666" text-anchor="end" font-weight="normal" font-family='"Liberation Sans","Noto Sans CJK SC",sans-serif' >10000</text><path d="M830.7 260.42 H944.3" stroke="#e6e6e6" stroke-width="0.4"/><text x="829.5" y="261.22" font-size="2" fill="#666" text-anchor="end" font-weight="normal" font-family='"Liberation Sans","Noto Sans CJK SC",sans-serif' >5000</text><path d="M830.7 264.04 H944.3" stroke="#999" stroke-width="0.4"/><text x="829.5" y="264.8" font-size="2" fill="#666" text-anchor="end" font-weight="normal" font-family='"Liberation Sans","Noto Sans CJK SC",sans-serif' >0</text><text x="836" y="268.2" font-size="2.2" fill="#666" text-anchor="middle" font-weight="normal" font-family='"Liberation Sans","Noto Sans CJK SC",sans-serif' >1</text><text x="845.43" y="268.2" font-size="2.2" fill="#666" text-anchor="middle" font-weight="normal" font-family='"Liberation Sans","Noto Sans CJK SC",sans-serif' >2</text><text x="854.86" y="268.2" font-size="2.2" fill="#666" text-anchor="middle" font-weight="normal" font-family='"Liberation Sans","Noto Sans CJK SC",sans-serif' >3</text><text x="864.29" y="268.2" font-size="2.2" fill="#666" text-anchor="middle" font-weight="normal" font-family='"Liberation Sans","Noto Sans CJK SC",sans-serif' >4</text><text x="873.72" y="268.2" font-size="2.2" fill="#666" text-anchor="middle" font-weight="normal" font-family='"Liberation Sans","Noto Sans CJK SC",sans-serif' >5</text><text x="883.15" y="268.2" font-size="2.2" fill="#666" text-anchor="middle" font-weight="normal" font-family='"Liberation Sans","Noto Sans CJK SC",sans-serif' >6</text><text x="892.58" y="268.2" font-size="2.2" fill="#666" text-anchor="middle" font-weight="normal" font-family='"Liberation Sans","Noto Sans CJK SC",sans-serif' >7</text><text x="902.01" y="268.2" font-size="2.2" fill="#666" text-anchor="middle" font-weight="normal" font-family='"Liberation Sans","Noto Sans CJK SC",sans-serif' >8</text><text x="911.44" y="268.2" font-size="2.2" fill="#666" text-anchor="middle" font-weight="normal" font-family='"Liberation Sans","Noto Sans CJK SC",sans-serif' >9</text><text x="920.87" y="268.2" font-size="2.2" fill="#666" text-anchor="middle" font-weight="normal" font-family='"Liberation Sans","Noto Sans CJK SC",sans-serif' >10</text><text x="930.3" y="268.2" font-size="2.2" fill="#666" text-anchor="middle" font-weight="normal" font-family='"Liberation Sans","Noto Sans CJK SC",sans-serif' >11</text><text x="939.73" y="268.2" font-size="2.2" fill="#666" text-anchor="middle" font-weight="normal" font-family='"Liberation Sans","Noto Sans CJK SC",sans-serif' >12</text><rect x="963" y="217" width="147" height="7.2" fill="#f3f3f3"/><text x="965.5" y="222" font-size="2.9" fill="#333" text-anchor="start" font-weight="normal" font-family='"Liberation Sans","Noto Sans CJK SC",sans-serif' >本年度费用走势</text><rect x="963" y="224.2" width="147" height="53.2" fill="#fff"/><rect x="1020.6" y="228.2" width="3.4" height="1.8" rx="0.9" fill="#8ecbf7"/><text x="1024.9" y="230.1" font-size="2.4" fill="#555" text-anchor="start" font-weight="normal" font-family='"Liberation Sans","Noto Sans CJK SC",sans-serif' >电量</text><rect x="1031.6" y="228.2" width="3.4" height="1.8" rx="0.9" fill="#f6a58a"/><text x="1035.9" y="230.1" font-size="2.4" fill="#555" text-anchor="start" font-weight="normal" font-family='"Liberation Sans","Noto Sans CJK SC",sans-serif' >水量</text><rect x="1042.6" y="228.2" width="3.4" height="1.8" rx="0.9" fill="#f8d97c"/><text x="1046.9" y="230.1" font-size="2.4" fill="#555" text-anchor="start" font-weight="normal" font-family='"Liberation Sans","Noto Sans CJK SC",sans-serif' >气量</text><text x="975.4" y="235.5" font-size="2.2" fill="#666" text-anchor="start" font-weight="normal" font-family='"Liberation Sans","Noto Sans CJK SC",sans-serif' >金额（元）</text><path d="M979.4 238.7 H1093" stroke="#e6e6e6" stroke-width="0.4"/><text x="978.2" y="239.5" font-size="2" fill="#666" text-anchor="end" font-weight="normal" font-family='"Liberation Sans","Noto Sans CJK SC",sans-serif' >35000</text><path d="M979.4 242.32 H1093" stroke="#e6e6e6" stroke-width="0.4"/><text x="978.2" y="243.12" font-size="2" fill="#666" text-anchor="end" font-weight="normal" font-family='"Liberation Sans","Noto Sans CJK SC",sans-serif' >30000</text><path d="M979.4 245.94 H1093" stroke="#e6e6e6" stroke-width="0.4"/><text x="978.2" y="246.74" font-size="2" fill="#666" text-anchor="end" font-weight="normal" font-family='"Liberation Sans","Noto Sans CJK SC",sans-serif' >25000</text><path d="M979.4 249.56 H1093" stroke="#e6e6e6" stroke-width="0.4"/><text x="978.2" y="250.36" font-size="2" fill="#666" text-anchor="end" font-weight="normal" font-family='"Liberation Sans","Noto Sans CJK SC",sans-serif' >20000</text><path d="M979.4 253.18 H1093" stroke="#e6e6e6" stroke-width="0.4"/><text x="978.2" y="253.98" font-size="2" fill="#666" text-anchor="end" font-weight="normal" font-family='"Liberation Sans","Noto Sans CJK SC",sans-serif' >15000</text><path d="M979.4 256.8 H1093" stroke="#e6e6e6" stroke-width="0.4"/><text x="978.2" y="257.6" font-size="2" fill="#666" text-anchor="end" font-weight="normal" font-family='"Liberation Sans","Noto Sans CJK SC",sans-serif' >10000</text><path d="M979.4 260.42 H1093" stroke="#e6e6e6" stroke-width="0.4"/><text x="978.2" y="261.22" font-size="2" fill="#666" text-anchor="end" font-weight="normal" font-family='"Liberation Sans","Noto Sans CJK SC",sans-serif' >5000</text><path d="M979.4 264.04 H1093" stroke="#999" stroke-width="0.4"/><text x="978.2" y="264.8" font-size="2" fill="#666" text-anchor="end" font-weight="normal" font-family='"Liberation Sans","Noto Sans CJK SC",sans-serif' >0</text><text x="984.7" y="268.2" font-size="2.2" fill="#666" text-anchor="middle" font-weight="normal" font-family='"Liberation Sans","Noto Sans CJK SC",sans-serif' >1</text><text x="994.13" y="268.2" font-size="2.2" fill="#666" text-anchor="middle" font-weight="normal" font-family='"Liberation Sans","Noto Sans CJK SC",sans-serif' >2</text><text x="1003.56" y="268.2" font-size="2.2" fill="#666" text-anchor="middle" font-weight="normal" font-family='"Liberation Sans","Noto Sans CJK SC",sans-serif' >3</text><text x="1012.99" y="268.2" font-size="2.2" fill="#666" text-anchor="middle" font-weight="normal" font-family='"Liberation Sans","Noto Sans CJK SC",sans-serif' >4</text><text x="1022.42" y="268.2" font-size="2.2" fill="#666" text-anchor="middle" font-weight="normal" font-family='"Liberation Sans","Noto Sans CJK SC",sans-serif' >5</text><text x="1031.85" y="268.2" font-size="2.2" fill="#666" text-anchor="middle" font-weight="normal" font-family='"Liberation Sans","Noto Sans CJK SC",sans-serif' >6</text><text x="1041.28" y="268.2" font-size="2.2" fill="#666" text-anchor="middle" font-weight="normal" font-family='"Liberation Sans","Noto Sans CJK SC",sans-serif' >7</text><text x="1050.71" y="268.2" font-size="2.2" fill="#666" text-anchor="middle" font-weight="normal" font-family='"Liberation Sans","Noto Sans CJK SC",sans-serif' >8</text><text x="1060.14" y="268.2" font-size="2.2" fill="#666" text-anchor="middle" font-weight="normal" font-family='"Liberation Sans","Noto Sans CJK SC",sans-serif' >9</text><text x="1069.57" y="268.2" font-size="2.2" fill="#666" text-anchor="middle" font-weight="normal" font-family='"Liberation Sans","Noto Sans CJK SC",sans-serif' >10</text><text x="1079" y="268.2" font-size="2.2" fill="#666" text-anchor="middle" font-weight="normal" font-family='"Liberation Sans","Noto Sans CJK SC",sans-serif' >11</text><text x="1088.43" y="268.2" font-size="2.2" fill="#666" text-anchor="middle" font-weight="normal" font-family='"Liberation Sans","Noto Sans CJK SC",sans-serif' >12</text><path d="M836 242.3 C842 255 846 262 853.7 264" fill="none" stroke="#7fc3f5" stroke-width="0.9"/><path d="M836 261.6 L840 262.6 L845 264 L840 263.6 Z" fill="#f39a6a" stroke="#f39a6a" stroke-width="0.8"/><path d="M984.2 239.9 C988 254 993 262 1002 264" fill="none" stroke="#7fc3f5" stroke-width="0.9"/><path d="M984 259 C989 261 993 263.4 998 264" fill="none" stroke="#f39a6a" stroke-width="0.9"/></g><defs><filter id="phsh" x="-20%" y="-10%" width="150%" height="120%"><feGaussianBlur stdDeviation="2"/></filter>
<clipPath id="phscr"><rect x="1065.4" y="215" width="96.6" height="198.8" rx="9.5"/></clipPath></defs><rect x="1069" y="219" width="102.5" height="201" rx="13" fill="#2a2a2a" opacity="0.85" filter="url(#phsh)"/><rect x="1062.2" y="213" width="102.4" height="204.2" rx="12.5" fill="#2b2b2b"/><rect x="1063" y="213.8" width="100.8" height="202.6" rx="11.8" fill="none" stroke="#6e6e6e" stroke-width="0.8"/><g clip-path="url(#phscr)"><rect x="1065" y="215" width="98" height="200" fill="#fbfbfb"/><rect x="1065" y="215" width="98" height="25" fill="#17171b"/><path d="M1068.6 222.8 v-1 m1.3 1 v-1.6 m1.3 1.6 v-2.2 m1.3 2.2 v-2.8" stroke="#fff" stroke-width="0.9"/><text x="1074.2" y="223" font-size="3.4" fill="#fff" text-anchor="start" font-weight="bold" font-family='"Liberation Sans","Noto Sans CJK SC",sans-serif' >中国电信</text><path d="M1090.6 220.3 q2.3 -1.9 4.6 0 l-2.3 2.7 z" fill="#fff"/><text x="1115" y="223" font-size="3.6" fill="#fff" text-anchor="middle" font-weight="bold" font-family='"Liberation Sans","Noto Sans CJK SC",sans-serif' >15:48</text><circle cx="1138.8" cy="221.7" r="1.4" fill="none" stroke="#ddd" stroke-width="0.6"/><text x="1142.5" y="223" font-size="3.5" fill="#fff" text-anchor="start" font-weight="bold" font-family='"Liberation Sans","Noto Sans CJK SC",sans-serif' >26%</text><rect x="1151.6" y="220" width="6.4" height="3.4" rx="0.8" fill="none" stroke="#aaa" stroke-width="0.5"/><rect x="1152" y="220.4" width="2" height="2.6" fill="#f5d21f"/><path d="M1072.6 229 l-2.4 3.4 l2.4 3.4" fill="none" stroke="#fff" stroke-width="1"/><text x="1074" y="234.4" font-size="4.6" fill="#f2f2f2" text-anchor="start" font-weight="normal" font-family='"Liberation Sans","Noto Sans CJK SC",sans-serif' >返回</text><text x="1086.5" y="234.4" font-size="4.6" fill="#f2f2f2" text-anchor="start" font-weight="normal" font-family='"Liberation Sans","Noto Sans CJK SC",sans-serif' >关闭</text><circle cx="1153.8" cy="232.8" r="0.8" fill="#fff"/><circle cx="1156.5" cy="232.8" r="0.8" fill="#fff"/><circle cx="1159.2" cy="232.8" r="0.8" fill="#fff"/><rect x="1065" y="239.8" width="98" height="15.8" fill="#1d9df0"/><text x="1114.5" y="250" font-size="5.4" fill="#f4fbff" text-anchor="middle" font-weight="normal" font-family='"Liberation Sans","Noto Sans CJK SC",sans-serif' >生活缴费</text><rect x="1065" y="255.6" width="98" height="6.6" fill="#f1f1f1"/><rect x="1065" y="262.2" width="98" height="20.3" fill="#fff"/><circle cx="1077" cy="271.7" r="6.8" fill="#0c0c0c"/><path d="M1078.6 267 l-4.4 5.3 h2.6 l-1.6 4.4 l4.6 -5.6 h-2.7 z" fill="#fff"/><text x="1089" y="273.6" font-size="4.4" fill="#333" text-anchor="start" font-weight="normal" font-family='"Liberation Sans","Noto Sans CJK SC",sans-serif' >电费</text><rect x="1065" y="282.5" width="98" height="59" fill="#f2f2f2"/><text x="1070.5" y="293.8" font-size="3.7" fill="#666" text-anchor="start" font-weight="normal" font-family='"Liberation Sans","Noto Sans CJK SC",sans-serif' >房号:</text><text x="1158.5" y="293.8" font-size="3.5" fill="#777" text-anchor="end" font-weight="normal" font-family='"Liberation Sans","Noto Sans CJK SC",sans-serif' >705</text><text x="1070.5" y="303.5" font-size="3.7" fill="#666" text-anchor="start" font-weight="normal" font-family='"Liberation Sans","Noto Sans CJK SC",sans-serif' >户名:</text><text x="1158.5" y="303.5" font-size="3.5" fill="#777" text-anchor="end" font-weight="normal" font-family='"Liberation Sans","Noto Sans CJK SC",sans-serif' >张 福 智 家 -测试01</text><text x="1070.5" y="313" font-size="3.7" fill="#666" text-anchor="start" font-weight="normal" font-family='"Liberation Sans","Noto Sans CJK SC",sans-serif' >手机号码:</text><text x="1158.5" y="313" font-size="3.5" fill="#777" text-anchor="end" font-weight="normal" font-family='"Liberation Sans","Noto Sans CJK SC",sans-serif' >17775804959</text><text x="1070.5" y="322.6" font-size="3.7" fill="#666" text-anchor="start" font-weight="normal" font-family='"Liberation Sans","Noto Sans CJK SC",sans-serif' >当前余额:</text><text x="1158.5" y="322.6" font-size="3.5" fill="#777" text-anchor="end" font-weight="normal" font-family='"Liberation Sans","Noto Sans CJK SC",sans-serif' >¥ 76.45</text><text x="1070.5" y="332.2" font-size="3.7" fill="#666" text-anchor="start" font-weight="normal" font-family='"Liberation Sans","Noto Sans CJK SC",sans-serif' >小区信息:</text><text x="1158.5" y="332.2" font-size="3.5" fill="#777" text-anchor="end" font-weight="normal" font-family='"Liberation Sans","Noto Sans CJK SC",sans-serif' >Hui鹿港小区-A区-1栋</text><rect x="1065" y="341.4" width="98" height="14.6" fill="#fff"/><text x="1070.5" y="351" font-size="4.4" fill="#222" text-anchor="start" font-weight="bold" font-family='"Liberation Sans","Noto Sans CJK SC",sans-serif' >充值金额</text><text x="1094.5" y="351" font-size="4.9" fill="#333" text-anchor="start" font-weight="normal" font-family='"Liberation Sans","Noto Sans CJK SC",sans-serif' >100</text><rect x="1065" y="356" width="98" height="10" fill="#f4f4f4"/><text x="1070.5" y="362.3" font-size="3.6" fill="#555" font-family='"Liberation Sans","Noto Sans CJK SC",sans-serif'>手续费:当前手续<tspan fill="#e02020" font-weight="bold">0.6%</tspan>由用户承担</text><rect x="1070.3" y="370.2" width="87.8" height="11.2" rx="1.4" fill="#1d9df0"/><text x="1114.2" y="377.6" font-size="3.9" fill="#eaf6ff" text-anchor="middle" font-weight="normal" font-family='"Liberation Sans","Noto Sans CJK SC",sans-serif' >立即缴费</text></g><defs>
<linearGradient id="kfront" x1="0" y1="0" x2="0.25" y2="1"><stop offset="0" stop-color="#f1f1f1"/><stop offset="0.5" stop-color="#e6e6e6"/><stop offset="1" stop-color="#d9d9d9"/></linearGradient>
<linearGradient id="kside" x1="0" y1="0" x2="1" y2="0"><stop offset="0" stop-color="#f1f1f1"/><stop offset="1" stop-color="#dadada"/></linearGradient>
<linearGradient id="kscr" x1="0" y1="0" x2="1" y2="1"><stop offset="0" stop-color="#6f9ad8"/><stop offset="0.5" stop-color="#8fb6e6"/><stop offset="1" stop-color="#5a86cc"/></linearGradient>
<linearGradient id="kshelf" x1="0" y1="0" x2="0" y2="1"><stop offset="0" stop-color="#7c7c7c"/><stop offset="1" stop-color="#5e5e5e"/></linearGradient>
<filter id="ksh2" x="-100%" y="-10%" width="300%" height="120%"><feGaussianBlur stdDeviation="2.5"/></filter><filter id="ksh3" x="-20%" y="-50%" width="140%" height="200%"><feGaussianBlur stdDeviation="3.2"/></filter><filter id="ksh" x="-20%" y="-20%" width="140%" height="160%"><feGaussianBlur stdDeviation="4"/></filter>
</defs><path d="M953 680 L1018 703 L1051 668 L1056 678 L1023 713 L958 695 Z" fill="#222" filter="url(#ksh3)" opacity="0.68"/><path d="M944 580 L956 684 L962 690 L952 580 Z" fill="#777" filter="url(#ksh)" opacity="0.45"/><path d="M1046 496 L1056 503 L1056 668 L1046 676 Z" fill="#555" filter="url(#ksh2)" opacity="0.55"/><path d="M1035 496.3 L1042 490.6 L1049 499 L1049 563 L1048.7 666 L1019 699.5 L1016.8 583.6 L1021.9 582 Z" fill="url(#kside)" /><path d="M1048.9 562.5 L1048.9 659 L1025.8 683.5 L1025.3 628 Z" fill="#5d5d5d" /><path d="M1048.9 562.5 L1048.9 580 L1041 584 Z" fill="#6c6c6c" /><path d="M1033 538 L1038.4 544 L1038.4 559 L1028 568.5 Z" fill="#6e6e6e" /><path d="M1033 538 L1035 540.5 L1031 566 L1028 568.5 Z" fill="#4e4e4e" /><path d="M965.88 489.25 L1042.01 490.65 L1035.01 496.25 L968.15 494.5 Z" fill="#f3f3f3" /><path d="M965.88 489.25 L968.5 494.5 L958 556.1 L967.63 557.5 L951 568 L949.78 570.11 Z" fill="#e9e9e9" /><path d="M1030.11 495.9 L1035.53 496.25 L1022.4 582.01 L1016.98 582.01 Z" fill="#ededed" /><path d="M968.15 494.5 L1031.16 496.25 L1022.4 565.38 L958 556.1 Z" fill="#959595" /><path d="M968.15 494.5 L1031.16 496.25 L1030.11 502.38 L967.45 500.1 Z" fill="#7e7e7e" /><path d="M1019.6 502.38 L1028 503.25 L1026.25 517.6 L1018.38 516.55 Z" fill="#8a8a8a" /><path d="M1017.15 520.75 L1026.25 520.05 L1025.55 527.75 L1016.45 528.8 Z" fill="#3d3d3d" /><path d="M1015.05 530.38 L1025.38 528.8 L1024.15 544.38 L1014 547.88 Z" fill="#2f2f2f" /><path d="M973.05 499.75 L1019.43 501.5 L1016.98 547.35 L969.9 543.15 Z" fill="#4c4c4c" /><path d="M975.85 504.48 L1013.83 505.88 L1012.25 539.83 L973.23 537.55 Z" fill="url(#kscr)" /><rect x="979.88" y="506.75" width="14" height="1.58" fill="#2c4a86" opacity="0.8"/><rect x="977.6" y="511.13" width="3.85" height="16.63" fill="#dfe8f6" opacity="0.85"/><rect x="977.25" y="529.5" width="7.35" height="5.25" fill="#5277bf" opacity="0.8"/><rect x="987.75" y="517.6" width="4.55" height="14" fill="#e8eef8" opacity="1"/><rect x="988.45" y="524.25" width="3.15" height="3.85" fill="#2d9a4a" opacity="1"/><rect x="995.1" y="518.13" width="7.35" height="15.4" fill="#3f6fb8" opacity="1"/><rect x="996.15" y="519.35" width="5.25" height="4.2" fill="#e9f0fa" opacity="1"/><rect x="1004.9" y="519.35" width="3.85" height="14.88" fill="#e8eef8" opacity="1"/><rect x="1005.25" y="529.5" width="3.15" height="3.85" fill="#2d9a4a" opacity="1"/><rect x="1002.1" y="512" width="6.3" height="1.75" fill="#a8c4ec" opacity="0.8"/><path d="M969.9 543.15 L1016.98 547.35 L1020.13 561 L967.63 557.5 Z" fill="#5a5a5a" /><path d="M967.63 557.5 L1021 561 L1022.4 565.38 L1021.88 582.01 L949.78 570.11 L951 568 Z" fill="url(#kshelf)" /><path d="M982.5 558.38 L1012.6 560.3 L1007 571.16 L975.15 565.9 Z" fill="#353535" /><path d="M975.15 565.9 L1007 571.16 L1007 573.26 L974.63 568 Z" fill="#505050" /><path d="M949.3 573.5 L1016.8 583.6 L1019 699.5 L957.1 683.8 Z" fill="url(#kfront)" /><path d="M949.3 573.5 L951.3 573.8 L959 684.2 L957.1 683.8 Z" fill="#cfcfcf" /><path d="M957 581.6 L971 583.6 L959.6 591.6 Z" fill="#5a5a5a" /><rect x="1017.6" y="600" width="3.2" height="8" rx="0.8" fill="#333"/><rect x="1018.6" y="675.5" width="3.2" height="8" rx="0.8" fill="#333"/><path d="M1033.4 616.5 L1038 613.2 L1038 618.4 L1033.4 621.6 Z" fill="#e6e6e6" /><rect x="1033" y="616.4" width="2.4" height="3.6" fill="#444" transform="skewY(-30)" opacity="0"/><defs><filter id="cglow" x="-20%" y="-20%" width="140%" height="150%"><feGaussianBlur stdDeviation="5"/></filter><clipPath id="innerc"><path d="M722 383.5 A30 30 0 0 1 774.7 402 A37.3 37.3 0 0 1 797 468.5 L790 471.7 H640 V383 Z"/></clipPath></defs><g filter="url(#cglow)" opacity="0.55"><path d="M671.6 474.7 A37 37 0 0 1 670.4 400.7 A32.6 32.6 0 0 1 735.3 401.7 A39.3 39.3 0 0 1 757 472 L757 474.7 Z" fill="#8fdcfb" transform="translate(2,5)"/><path d="M722 383.5 A30 30 0 0 1 774.7 402 A37.3 37.3 0 0 1 797 468.5 Q795 471.7 790 471.7 H745" fill="none" stroke="#8fdcfb" stroke-width="9" transform="translate(3,5)"/></g><path d="M722 383.5 A30 30 0 0 1 774.7 402 A37.3 37.3 0 0 1 797 468.5 Q795 471.7 790 471.7 H700 Z" fill="#fff"/><path d="M722 383.5 A30 30 0 0 1 774.7 402 A37.3 37.3 0 0 1 797 468.5 Q795 471.7 790 471.7 H745" fill="none" stroke="#45ccfc" stroke-width="6"/><g clip-path="url(#innerc)"><path d="M671.6 474.7 A37 37 0 0 1 670.4 400.7 A32.6 32.6 0 0 1 735.3 401.7 A39.3 39.3 0 0 1 757 472 L757 474.7 Z" fill="#9bdffa" filter="url(#cglow)" opacity="0.8" transform="translate(4,2)"/></g><path d="M671.6 474.7 A37 37 0 0 1 670.4 400.7 A32.6 32.6 0 0 1 735.3 401.7 A39.3 39.3 0 0 1 757 472 L757 474.7 Z" fill="#45ccfc"/><text x="704" y="441.5" font-size="26.5" fill="#fbfdff" text-anchor="middle" font-weight="bold" font-family='"Liberation Sans","Noto Sans CJK SC",sans-serif' textLength="80" lengthAdjust="spacingAndGlyphs" >云平台</text><path fill="#5cc9f5" d="M402.69 353.33 L406.46 351.56 L410.14 349.84 L413.75 348.19 L417.29 346.63 L420.77 345.15 L424.18 343.75 L427.54 342.44 L430.84 341.22 L434.08 340.09 L437.27 339.05 L440.41 338.11 L443.5 337.25 L446.54 336.49 L449.55 335.82 L452.51 335.24 L455.43 334.76 L458.32 334.38 L461.18 334.09 L464.01 333.9 L466.81 333.81 L469.6 333.82 L472.37 333.93 L475.12 334.14 L477.86 334.45 L480.6 334.87 L483.34 335.39 L486.07 336.02 L488.82 336.76 L491.57 337.61 L494.33 338.58 L497.11 339.66 L499.91 340.86 L502.72 342.18 L505.56 343.62 L508.43 345.19 L511.32 346.88 L514.25 348.69 L517.21 350.63 L520.21 352.7 L523.27 354.88 L525.13 352.52 L522.19 350.08 L519.24 347.79 L516.31 345.64 L513.4 343.62 L510.49 341.73 L507.59 339.98 L504.69 338.35 L501.8 336.85 L498.91 335.48 L496.03 334.23 L493.13 333.11 L490.24 332.12 L487.33 331.25 L484.42 330.5 L481.51 329.88 L478.58 329.39 L475.64 329.01 L472.68 328.76 L469.72 328.63 L466.74 328.61 L463.74 328.72 L460.73 328.93 L457.69 329.27 L454.64 329.71 L451.57 330.27 L448.47 330.93 L445.35 331.7 L442.2 332.57 L439.01 333.55 L435.8 334.62 L432.55 335.8 L429.26 337.08 L425.93 338.45 L422.56 339.91 L419.14 341.47 L415.68 343.12 L412.16 344.86 L408.6 346.7 L404.97 348.63 L401.31 350.67 Z"/><path fill="#5cc9f5" d="M402 352 Q410.05 344.47 417.2 335.04 Q415.35 340.8 415.67 345.53 Q419.13 348.77 424.75 350.98 Q412.93 350.54 402 352 Z"/><path fill="#5cc9f5" d="M524.2 353.7 Q513.6 350.66 501.84 349.37 Q507.73 348.01 511.63 345.3 Q512.63 340.67 511.63 334.7 Q517.33 345.08 524.2 353.7 Z"/><path fill="#5cc9f5" d="M562.78 363.74 L565.15 361.57 L567.6 359.5 L570.15 357.54 L572.79 355.69 L575.52 353.96 L578.33 352.35 L581.22 350.84 L584.18 349.46 L587.21 348.18 L590.31 347.02 L593.46 345.98 L596.66 345.05 L599.9 344.23 L603.19 343.53 L606.5 342.94 L609.85 342.46 L613.22 342.1 L616.6 341.86 L620 341.73 L623.39 341.71 L626.79 341.81 L630.18 342.03 L633.56 342.36 L636.92 342.8 L640.25 343.37 L643.56 344.05 L646.83 344.84 L650.06 345.75 L653.24 346.78 L656.36 347.93 L659.43 349.2 L662.44 350.58 L665.37 352.09 L668.23 353.71 L671.01 355.46 L673.71 357.32 L676.32 359.31 L678.83 361.42 L681.24 363.65 L683.57 365.99 L685.83 364.01 L683.58 361.38 L681.18 358.89 L678.65 356.54 L676 354.31 L673.25 352.22 L670.39 350.26 L667.43 348.44 L664.39 346.74 L661.26 345.18 L658.06 343.75 L654.79 342.45 L651.47 341.28 L648.08 340.25 L644.65 339.35 L641.18 338.58 L637.68 337.94 L634.15 337.44 L630.6 337.06 L627.03 336.82 L623.46 336.71 L619.88 336.73 L616.31 336.89 L612.75 337.17 L609.21 337.58 L605.7 338.13 L602.22 338.8 L598.78 339.6 L595.38 340.54 L592.03 341.6 L588.74 342.79 L585.52 344.1 L582.37 345.55 L579.3 347.12 L576.31 348.82 L573.41 350.64 L570.62 352.59 L567.93 354.67 L565.36 356.87 L562.91 359.2 L560.62 361.66 Z"/><path fill="#5cc9f5" d="M561.7 362.7 Q568.04 353.68 573.11 342.99 Q572.47 349 573.75 353.57 Q577.8 356.03 583.76 357.04 Q572.1 359.03 561.7 362.7 Z"/><path fill="#5cc9f5" d="M684.7 365 Q674.46 360.91 662.89 358.43 Q668.89 357.67 673.04 355.37 Q674.51 350.86 674.12 344.83 Q678.74 355.72 684.7 365 Z"/><path fill="#5cc9f5" d="M721.99 366.3 L721.6 362.07 L721.24 357.86 L720.93 353.66 L720.68 349.47 L720.49 345.3 L720.36 341.15 L720.29 337.02 L720.28 332.91 L720.34 328.82 L720.46 324.75 L720.65 320.71 L720.9 316.7 L721.22 312.71 L721.61 308.76 L722.07 304.84 L722.6 300.94 L723.2 297.09 L723.87 293.27 L724.61 289.49 L725.42 285.74 L726.31 282.04 L727.27 278.37 L728.31 274.75 L729.43 271.18 L730.62 267.64 L731.9 264.16 L733.25 260.72 L734.68 257.33 L736.2 253.99 L737.8 250.71 L739.48 247.47 L741.26 244.29 L743.11 241.16 L745.06 238.09 L747.1 235.08 L749.23 232.12 L751.45 229.23 L753.77 226.39 L756.17 223.61 L758.65 220.87 L756.55 218.73 L753.79 221.35 L751.15 224.06 L748.62 226.87 L746.19 229.75 L743.85 232.71 L741.62 235.74 L739.49 238.84 L737.45 242.01 L735.51 245.25 L733.66 248.55 L731.91 251.91 L730.26 255.33 L728.7 258.81 L727.23 262.34 L725.86 265.93 L724.57 269.57 L723.38 273.26 L722.28 276.99 L721.27 280.76 L720.35 284.58 L719.52 288.44 L718.77 292.34 L718.11 296.27 L717.53 300.24 L717.04 304.24 L716.63 308.26 L716.3 312.32 L716.05 316.4 L715.88 320.51 L715.79 324.63 L715.78 328.78 L715.84 332.95 L715.98 337.13 L716.19 341.32 L716.47 345.53 L716.83 349.75 L717.26 353.98 L717.76 358.22 L718.34 362.46 L719.01 366.7 Z"/><path fill="#5cc9f5" d="M720.5 366.5 Q715.85 355.35 708.92 344.41 Q714.11 348.4 719.09 350 Q723.73 347.58 728.17 342.76 Q723.19 354.73 720.5 366.5 Z"/><path fill="#5cc9f5" d="M757.6 219.8 Q753.15 231.02 750.47 243.71 Q749.54 237.22 747.09 232.6 Q742.08 231.09 735.54 231.45 Q747.46 226.35 757.6 219.8 Z"/><path fill="#5cc9f5" d="M795.01 478.77 L798.31 480.96 L801.72 483.04 L805.2 485.03 L808.77 486.92 L812.4 488.72 L816.1 490.43 L819.86 492.04 L823.68 493.56 L827.55 494.98 L831.46 496.29 L835.43 497.49 L839.43 498.59 L843.46 499.58 L847.53 500.46 L851.62 501.22 L855.74 501.86 L859.87 502.38 L864.02 502.78 L868.17 503.05 L872.33 503.2 L876.49 503.21 L880.65 503.1 L884.8 502.84 L888.93 502.45 L893.05 501.92 L897.14 501.25 L901.2 500.44 L905.24 499.47 L909.23 498.36 L913.18 497.11 L917.09 495.69 L920.94 494.13 L924.74 492.41 L928.48 490.53 L932.15 488.5 L935.74 486.3 L939.26 483.94 L942.7 481.42 L946.05 478.72 L949.28 475.84 L947.32 473.56 L943.98 476.11 L940.59 478.51 L937.15 480.77 L933.66 482.87 L930.11 484.82 L926.51 486.62 L922.86 488.27 L919.17 489.78 L915.43 491.15 L911.66 492.38 L907.84 493.47 L904 494.43 L900.13 495.26 L896.23 495.96 L892.3 496.53 L888.36 496.99 L884.39 497.32 L880.42 497.53 L876.43 497.62 L872.44 497.6 L868.45 497.47 L864.45 497.22 L860.46 496.87 L856.47 496.41 L852.5 495.85 L848.54 495.18 L844.59 494.42 L840.67 493.55 L836.78 492.59 L832.91 491.53 L829.07 490.38 L825.27 489.14 L821.52 487.81 L817.8 486.39 L814.13 484.89 L810.52 483.3 L806.95 481.64 L803.45 479.9 L800 478.08 L796.59 476.23 Z"/><path fill="#5cc9f5" d="M795.8 477.5 Q808.24 479.52 821.76 479.41 Q815.41 481.83 811.2 485.34 Q810.84 490.81 812.61 497.37 Q804.75 486.37 795.8 477.5 Z"/><path fill="#5cc9f5" d="M948.3 474.7 Q940.35 484.48 933.72 496.26 Q934.78 489.55 933.83 484.15 Q929.27 481.11 922.69 479.38 Q936.15 478.05 948.3 474.7 Z"/><g transform="translate(567.6,356.3) skewX(-4)"><text x="1" y="1" font-size="16.5" fill="#6aa8f0" text-anchor="start" font-weight="900" font-family='"Liberation Sans","Noto Sans CJK SC",sans-serif' textLength="100" lengthAdjust="spacingAndGlyphs" >信号稳定</text><text x="0" y="0" font-size="16.5" fill="#0f55d8" text-anchor="start" font-weight="900" font-family='"Liberation Sans","Noto Sans CJK SC",sans-serif' textLength="100" lengthAdjust="spacingAndGlyphs" >信号稳定</text></g><path d="M885.5 421.3 H861.5 V353.6 H972.3 V421.3 H947" fill="none" stroke="#22a9e4" stroke-width="1.9"/><text x="866.3" y="379.6" font-size="12.8" fill="#22a9e4" text-anchor="start" font-weight="500" font-family='"Liberation Sans","Noto Sans CJK SC",sans-serif' textLength="104" lengthAdjust="spacingAndGlyphs" >水电表远程</text><text x="877.5" y="402.8" font-size="12.8" fill="#22a9e4" text-anchor="start" font-weight="500" font-family='"Liberation Sans","Noto Sans CJK SC",sans-serif' textLength="82" lengthAdjust="spacingAndGlyphs" >管理系统</text><g transform="translate(917.2,409)"><path d="M-8.2 19 V10.9 A8.2 8.2 0 0 1 8.2 10.9 V11.8" fill="none" stroke="#22a9e4" stroke-width="5.2" stroke-linecap="butt"/><rect x="-13.6" y="17.8" width="27.2" height="16.8" rx="1.8" fill="#22a9e4"/><circle cx="-0.3" cy="23.4" r="3.1" fill="#fff"/><rect x="-1.8" y="23.4" width="3" height="8.2" rx="1.2" fill="#fff"/></g><path d="M1084.5 489.6 H1064.5 V422.7 H1161.8 V489.6 H1140.2" fill="none" stroke="#22a9e4" stroke-width="1.9"/><text x="1067.6" y="445.5" font-size="12.8" fill="#22a9e4" text-anchor="start" font-weight="500" font-family='"Liberation Sans","Noto Sans CJK SC",sans-serif' textLength="90" lengthAdjust="spacingAndGlyphs" >业主/用户</text><text x="1072.5" y="472.6" font-size="12.8" fill="#22a9e4" text-anchor="start" font-weight="500" font-family='"Liberation Sans","Noto Sans CJK SC",sans-serif' textLength="78.5" lengthAdjust="spacingAndGlyphs" >手机APP</text><g transform="translate(1114.3,476.2)"><path d="M-8.2 19 V10.9 A8.2 8.2 0 0 1 8.2 10.9 V11.8" fill="none" stroke="#22a9e4" stroke-width="5.2" stroke-linecap="butt"/><rect x="-13.6" y="17.8" width="27.2" height="16.8" rx="1.8" fill="#22a9e4"/><circle cx="-0.3" cy="23.4" r="3.1" fill="#fff"/><rect x="-1.8" y="23.4" width="3" height="8.2" rx="1.2" fill="#fff"/></g><path d="M1068.2 714.8 H1047.8 V642 H1144.3 V714.8 H1122.5" fill="none" stroke="#22a9e4" stroke-width="1.9"/><text x="1057.4" y="670.8" font-size="12.8" fill="#22a9e4" text-anchor="start" font-weight="500" font-family='"Liberation Sans","Noto Sans CJK SC",sans-serif' textLength="78.4" lengthAdjust="spacingAndGlyphs" >自助充值</text><text x="1075.9" y="696.8" font-size="12.8" fill="#22a9e4" text-anchor="start" font-weight="500" font-family='"Liberation Sans","Noto Sans CJK SC",sans-serif' textLength="40.6" lengthAdjust="spacingAndGlyphs" >终端</text><g transform="translate(1097.6,701)"><path d="M-8.2 19 V10.9 A8.2 8.2 0 0 1 8.2 10.9 V11.8" fill="none" stroke="#22a9e4" stroke-width="5.2" stroke-linecap="butt"/><rect x="-13.6" y="17.8" width="27.2" height="16.8" rx="1.8" fill="#22a9e4"/><circle cx="-0.3" cy="23.4" r="3.1" fill="#fff"/><rect x="-1.8" y="23.4" width="3" height="8.2" rx="1.2" fill="#fff"/></g><defs><path id="wmarc1" d="M127.47 377.67 A74.5 74.5 0 0 1 267.53 377.67"/></defs><g transform="translate(-0.8,-0.8)" opacity="0.32" fill="none" stroke="#ffffff"><circle cx="197.5" cy="403" r="97.5" stroke-width="1.3"/><circle cx="197.5" cy="403" r="92.5" stroke-width="0.8"/></g><g transform="translate(-0.8,-0.8)" opacity="0.32" fill="#ffffff" font-family='"Liberation Sans","Noto Sans CJK SC",sans-serif'><text font-size="17" font-weight="bold" letter-spacing="3"><textPath href="#wmarc1" startOffset="50%" text-anchor="middle">长沙威瀚电气有限公司</textPath></text><text x="117.5" y="421" font-size="24" font-weight="900" font-style="italic" textLength="68" lengthAdjust="spacingAndGlyphs">WH</text><text x="187.5" y="420" font-size="21" font-weight="bold" textLength="92" lengthAdjust="spacingAndGlyphs">威瀚电气</text><text x="137.5" y="449" font-size="13" font-weight="bold" letter-spacing="2.2" transform="rotate(23 137.5 449)">www.cswhdb.com</text></g><g transform="translate(0.3,0.3)" opacity="0.15" fill="none" stroke="#8a8a8a"><circle cx="197.5" cy="403" r="97.5" stroke-width="1.3"/><circle cx="197.5" cy="403" r="92.5" stroke-width="0.8"/></g><g transform="translate(0.3,0.3)" opacity="0.15" fill="#8a8a8a" font-family='"Liberation Sans","Noto Sans CJK SC",sans-serif'><text font-size="17" font-weight="bold" letter-spacing="3"><textPath href="#wmarc1" startOffset="50%" text-anchor="middle">长沙威瀚电气有限公司</textPath></text><text x="117.5" y="421" font-size="24" font-weight="900" font-style="italic" textLength="68" lengthAdjust="spacingAndGlyphs">WH</text><text x="187.5" y="420" font-size="21" font-weight="bold" textLength="92" lengthAdjust="spacingAndGlyphs">威瀚电气</text><text x="137.5" y="449" font-size="13" font-weight="bold" letter-spacing="2.2" transform="rotate(23 137.5 449)">www.cswhdb.com</text></g><defs><path id="wmarc2" d="M984.56 333.16 A76 76 0 0 1 1127.44 333.16"/></defs><g transform="translate(-0.8,-0.8)" opacity="0.32" fill="none" stroke="#ffffff"><circle cx="1056" cy="359" r="99" stroke-width="1.3"/><circle cx="1056" cy="359" r="94" stroke-width="0.8"/></g><g transform="translate(-0.8,-0.8)" opacity="0.32" fill="#ffffff" font-family='"Liberation Sans","Noto Sans CJK SC",sans-serif'><text font-size="17" font-weight="bold" letter-spacing="3"><textPath href="#wmarc2" startOffset="50%" text-anchor="middle">长沙威瀚电气有限公司</textPath></text><text x="976" y="377" font-size="24" font-weight="900" font-style="italic" textLength="68" lengthAdjust="spacingAndGlyphs">WH</text><text x="1046" y="376" font-size="21" font-weight="bold" textLength="92" lengthAdjust="spacingAndGlyphs">威瀚电气</text><text x="996" y="405" font-size="13" font-weight="bold" letter-spacing="2.2" transform="rotate(23 996 405)">www.cswhdb.com</text></g><g transform="translate(0.3,0.3)" opacity="0.15" fill="none" stroke="#8a8a8a"><circle cx="1056" cy="359" r="99" stroke-width="1.3"/><circle cx="1056" cy="359" r="94" stroke-width="0.8"/></g><g transform="translate(0.3,0.3)" opacity="0.15" fill="#8a8a8a" font-family='"Liberation Sans","Noto Sans CJK SC",sans-serif'><text font-size="17" font-weight="bold" letter-spacing="3"><textPath href="#wmarc2" startOffset="50%" text-anchor="middle">长沙威瀚电气有限公司</textPath></text><text x="976" y="377" font-size="24" font-weight="900" font-style="italic" textLength="68" lengthAdjust="spacingAndGlyphs">WH</text><text x="1046" y="376" font-size="21" font-weight="bold" textLength="92" lengthAdjust="spacingAndGlyphs">威瀚电气</text><text x="996" y="405" font-size="13" font-weight="bold" letter-spacing="2.2" transform="rotate(23 996 405)">www.cswhdb.com</text></g>
</svg>
</body></html>
